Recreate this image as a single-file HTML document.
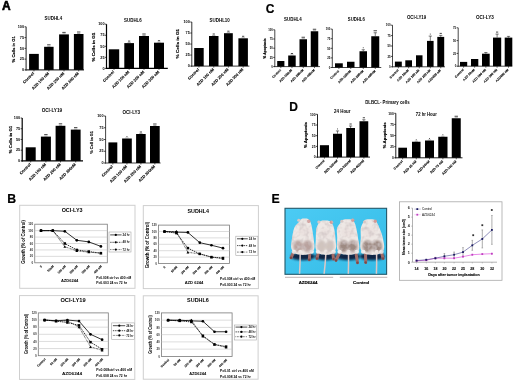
<!DOCTYPE html>
<html><head><meta charset="utf-8"><style>
html,body{margin:0;padding:0;background:#fff;}
body{width:520px;height:385px;overflow:hidden;}
svg{display:block;font-family:"Liberation Sans",sans-serif;will-change:transform;filter:blur(0.5px);}
</style></head><body>
<svg width="520" height="385" viewBox="0 0 520 385">
<text x="6.40" y="9.50" font-size="12.0" text-anchor="middle" font-weight="bold" fill="#000" stroke="#000" stroke-width="0.6" stroke-linejoin="round">A</text>
<text x="270.10" y="13.10" font-size="12" text-anchor="middle" font-weight="bold" fill="#000" stroke="#000" stroke-width="0.2">C</text>
<text x="293.50" y="110.80" font-size="12" text-anchor="middle" font-weight="bold" fill="#000" stroke="#000" stroke-width="0.2">D</text>
<text x="11.60" y="203.10" font-size="12.3" text-anchor="middle" font-weight="bold" fill="#000" stroke="#000" stroke-width="0.2">B</text>
<text x="275.50" y="203.00" font-size="12.3" text-anchor="middle" font-weight="bold" fill="#000" stroke="#000" stroke-width="0.2">E</text>
<line x1="26.10" y1="26.80" x2="26.10" y2="70.45" stroke="#333" stroke-width="1.1" />
<line x1="25.55" y1="69.90" x2="84.00" y2="69.90" stroke="#333" stroke-width="1.1" />
<line x1="24.50" y1="26.80" x2="26.10" y2="26.80" stroke="#000" stroke-width="0.7" />
<text x="24.10" y="28.00" font-size="3.8" text-anchor="end" font-weight="bold" fill="#000" >100</text>
<line x1="24.50" y1="37.58" x2="26.10" y2="37.58" stroke="#000" stroke-width="0.7" />
<text x="24.10" y="38.78" font-size="3.8" text-anchor="end" font-weight="bold" fill="#000" >75</text>
<line x1="24.50" y1="48.35" x2="26.10" y2="48.35" stroke="#000" stroke-width="0.7" />
<text x="24.10" y="49.55" font-size="3.8" text-anchor="end" font-weight="bold" fill="#000" >50</text>
<line x1="24.50" y1="59.12" x2="26.10" y2="59.12" stroke="#000" stroke-width="0.7" />
<text x="24.10" y="60.33" font-size="3.8" text-anchor="end" font-weight="bold" fill="#000" >25</text>
<line x1="24.50" y1="69.90" x2="26.10" y2="69.90" stroke="#000" stroke-width="0.7" />
<text x="24.10" y="71.10" font-size="3.8" text-anchor="end" font-weight="bold" fill="#000" >0</text>
<rect x="29.10" y="53.90" width="9.70" height="16.00" fill="#000" stroke="none" stroke-width="1" />
<line x1="33.95" y1="69.90" x2="33.95" y2="71.40" stroke="#000" stroke-width="0.6" />
<rect x="44.10" y="46.80" width="9.50" height="23.10" fill="#000" stroke="none" stroke-width="1" />
<line x1="48.85" y1="69.90" x2="48.85" y2="71.40" stroke="#000" stroke-width="0.6" />
<rect x="59.10" y="34.40" width="9.80" height="35.50" fill="#000" stroke="none" stroke-width="1" />
<line x1="64.00" y1="69.90" x2="64.00" y2="71.40" stroke="#000" stroke-width="0.6" />
<rect x="73.90" y="34.00" width="9.60" height="35.90" fill="#000" stroke="none" stroke-width="1" />
<line x1="78.70" y1="69.90" x2="78.70" y2="71.40" stroke="#000" stroke-width="0.6" />
<text x="53.40" y="19.80" font-size="5.2" text-anchor="middle" font-weight="bold" fill="#000" textLength="17.60" lengthAdjust="spacingAndGlyphs" >SUDHL4</text>
<text x="14.60" y="49.30" font-size="4.3" text-anchor="middle" font-weight="bold" fill="#000" textLength="26.30" lengthAdjust="spacingAndGlyphs" transform="rotate(-90 14.60 49.30)" stroke="#000" stroke-width="0.15">% Cells in G1</text>
<text x="34.45" y="73.80" font-size="4.0" text-anchor="end" font-weight="bold" fill="#000" transform="rotate(-45 34.45 73.80)" stroke="#000" stroke-width="0.1">Control</text>
<text x="49.35" y="73.80" font-size="4.0" text-anchor="end" font-weight="bold" fill="#000" transform="rotate(-45 49.35 73.80)" stroke="#000" stroke-width="0.1">AZD 100 nM</text>
<text x="64.50" y="73.80" font-size="4.0" text-anchor="end" font-weight="bold" fill="#000" transform="rotate(-45 64.50 73.80)" stroke="#000" stroke-width="0.1">AZD 200 nM</text>
<text x="79.20" y="73.80" font-size="4.0" text-anchor="end" font-weight="bold" fill="#000" transform="rotate(-45 79.20 73.80)" stroke="#000" stroke-width="0.1">AZD 300 nM</text>
<line x1="47.15" y1="44.80" x2="50.55" y2="44.80" stroke="#333" stroke-width="0.9" />
<line x1="47.25" y1="46.30" x2="50.45" y2="46.30" stroke="#555" stroke-width="0.5" />
<line x1="62.30" y1="32.40" x2="65.70" y2="32.40" stroke="#333" stroke-width="0.9" />
<line x1="62.40" y1="33.90" x2="65.60" y2="33.90" stroke="#555" stroke-width="0.5" />
<line x1="77.00" y1="32.00" x2="80.40" y2="32.00" stroke="#333" stroke-width="0.9" />
<line x1="77.10" y1="33.50" x2="80.30" y2="33.50" stroke="#555" stroke-width="0.5" />
<line x1="106.50" y1="24.20" x2="106.50" y2="69.00" stroke="#000" stroke-width="1.2" />
<line x1="105.90" y1="68.40" x2="167.80" y2="68.40" stroke="#000" stroke-width="1.2" />
<line x1="104.90" y1="24.20" x2="106.50" y2="24.20" stroke="#000" stroke-width="0.7" />
<text x="104.50" y="25.40" font-size="3.8" text-anchor="end" font-weight="bold" fill="#000" >100</text>
<line x1="104.90" y1="35.25" x2="106.50" y2="35.25" stroke="#000" stroke-width="0.7" />
<text x="104.50" y="36.45" font-size="3.8" text-anchor="end" font-weight="bold" fill="#000" >75</text>
<line x1="104.90" y1="46.30" x2="106.50" y2="46.30" stroke="#000" stroke-width="0.7" />
<text x="104.50" y="47.50" font-size="3.8" text-anchor="end" font-weight="bold" fill="#000" >50</text>
<line x1="104.90" y1="57.35" x2="106.50" y2="57.35" stroke="#000" stroke-width="0.7" />
<text x="104.50" y="58.55" font-size="3.8" text-anchor="end" font-weight="bold" fill="#000" >25</text>
<line x1="104.90" y1="68.40" x2="106.50" y2="68.40" stroke="#000" stroke-width="0.7" />
<text x="104.50" y="69.60" font-size="3.8" text-anchor="end" font-weight="bold" fill="#000" >0</text>
<rect x="108.80" y="49.30" width="10.40" height="19.10" fill="#000" stroke="none" stroke-width="1" />
<line x1="114.00" y1="68.40" x2="114.00" y2="69.90" stroke="#000" stroke-width="0.6" />
<rect x="124.30" y="43.10" width="9.70" height="25.30" fill="#000" stroke="none" stroke-width="1" />
<line x1="129.15" y1="68.40" x2="129.15" y2="69.90" stroke="#000" stroke-width="0.6" />
<rect x="139.00" y="36.00" width="10.00" height="32.40" fill="#000" stroke="none" stroke-width="1" />
<line x1="144.00" y1="68.40" x2="144.00" y2="69.90" stroke="#000" stroke-width="0.6" />
<rect x="154.00" y="42.70" width="10.00" height="25.70" fill="#000" stroke="none" stroke-width="1" />
<line x1="159.00" y1="68.40" x2="159.00" y2="69.90" stroke="#000" stroke-width="0.6" />
<text x="132.90" y="22.20" font-size="5.2" text-anchor="middle" font-weight="bold" fill="#000" textLength="17.60" lengthAdjust="spacingAndGlyphs" >SUDHL6</text>
<text x="95.00" y="47.10" font-size="4.3" text-anchor="middle" font-weight="bold" fill="#000" textLength="29.00" lengthAdjust="spacingAndGlyphs" transform="rotate(-90 95.00 47.10)" stroke="#000" stroke-width="0.15">% Cells in G1</text>
<text x="114.50" y="72.30" font-size="4.0" text-anchor="end" font-weight="bold" fill="#000" transform="rotate(-45 114.50 72.30)" stroke="#000" stroke-width="0.1">Control</text>
<text x="129.65" y="72.30" font-size="4.0" text-anchor="end" font-weight="bold" fill="#000" transform="rotate(-45 129.65 72.30)" stroke="#000" stroke-width="0.1">AZD 100 nM</text>
<text x="144.50" y="72.30" font-size="4.0" text-anchor="end" font-weight="bold" fill="#000" transform="rotate(-45 144.50 72.30)" stroke="#000" stroke-width="0.1">AZD 200 nM</text>
<text x="159.50" y="72.30" font-size="4.0" text-anchor="end" font-weight="bold" fill="#000" transform="rotate(-45 159.50 72.30)" stroke="#000" stroke-width="0.1">AZD 300 nM</text>
<line x1="128.05" y1="41.10" x2="130.25" y2="41.10" stroke="#333" stroke-width="0.9" />
<line x1="127.55" y1="42.60" x2="130.75" y2="42.60" stroke="#555" stroke-width="0.5" />
<line x1="142.30" y1="34.00" x2="145.70" y2="34.00" stroke="#333" stroke-width="0.9" />
<line x1="142.40" y1="35.50" x2="145.60" y2="35.50" stroke="#555" stroke-width="0.5" />
<line x1="157.90" y1="40.70" x2="160.10" y2="40.70" stroke="#333" stroke-width="0.9" />
<line x1="157.40" y1="42.20" x2="160.60" y2="42.20" stroke="#555" stroke-width="0.5" />
<line x1="191.80" y1="22.00" x2="191.80" y2="66.60" stroke="#333" stroke-width="1.0" />
<line x1="191.30" y1="66.10" x2="249.40" y2="66.10" stroke="#333" stroke-width="1.0" />
<line x1="190.20" y1="22.00" x2="191.80" y2="22.00" stroke="#000" stroke-width="0.7" />
<text x="189.80" y="23.20" font-size="3.8" text-anchor="end" font-weight="bold" fill="#000" >100</text>
<line x1="190.20" y1="33.02" x2="191.80" y2="33.02" stroke="#000" stroke-width="0.7" />
<text x="189.80" y="34.23" font-size="3.8" text-anchor="end" font-weight="bold" fill="#000" >75</text>
<line x1="190.20" y1="44.05" x2="191.80" y2="44.05" stroke="#000" stroke-width="0.7" />
<text x="189.80" y="45.25" font-size="3.8" text-anchor="end" font-weight="bold" fill="#000" >50</text>
<line x1="190.20" y1="55.07" x2="191.80" y2="55.07" stroke="#000" stroke-width="0.7" />
<text x="189.80" y="56.27" font-size="3.8" text-anchor="end" font-weight="bold" fill="#000" >25</text>
<line x1="190.20" y1="66.10" x2="191.80" y2="66.10" stroke="#000" stroke-width="0.7" />
<text x="189.80" y="67.30" font-size="3.8" text-anchor="end" font-weight="bold" fill="#000" >0</text>
<rect x="194.20" y="48.00" width="9.50" height="18.10" fill="#000" stroke="none" stroke-width="1" />
<line x1="198.95" y1="66.10" x2="198.95" y2="67.60" stroke="#000" stroke-width="0.6" />
<rect x="209.00" y="36.00" width="9.50" height="30.10" fill="#000" stroke="none" stroke-width="1" />
<line x1="213.75" y1="66.10" x2="213.75" y2="67.60" stroke="#000" stroke-width="0.6" />
<rect x="224.00" y="33.20" width="8.80" height="32.90" fill="#000" stroke="none" stroke-width="1" />
<line x1="228.40" y1="66.10" x2="228.40" y2="67.60" stroke="#000" stroke-width="0.6" />
<rect x="238.40" y="38.30" width="9.50" height="27.80" fill="#000" stroke="none" stroke-width="1" />
<line x1="243.15" y1="66.10" x2="243.15" y2="67.60" stroke="#000" stroke-width="0.6" />
<text x="219.70" y="22.10" font-size="5.2" text-anchor="middle" font-weight="bold" fill="#000" textLength="20.20" lengthAdjust="spacingAndGlyphs" >SUDHL10</text>
<text x="179.00" y="43.70" font-size="4.3" text-anchor="middle" font-weight="bold" fill="#000" textLength="29.70" lengthAdjust="spacingAndGlyphs" transform="rotate(-90 179.00 43.70)" stroke="#000" stroke-width="0.15">% Cells in G1</text>
<text x="199.45" y="70.00" font-size="4.0" text-anchor="end" font-weight="bold" fill="#000" transform="rotate(-45 199.45 70.00)" stroke="#000" stroke-width="0.1">Control</text>
<text x="214.25" y="70.00" font-size="4.0" text-anchor="end" font-weight="bold" fill="#000" transform="rotate(-45 214.25 70.00)" stroke="#000" stroke-width="0.1">AZD 100 nM</text>
<text x="228.90" y="70.00" font-size="4.0" text-anchor="end" font-weight="bold" fill="#000" transform="rotate(-45 228.90 70.00)" stroke="#000" stroke-width="0.1">AZD 200 nM</text>
<text x="243.65" y="70.00" font-size="4.0" text-anchor="end" font-weight="bold" fill="#000" transform="rotate(-45 243.65 70.00)" stroke="#000" stroke-width="0.1">AZD 300 nM</text>
<line x1="212.65" y1="34.00" x2="214.85" y2="34.00" stroke="#333" stroke-width="0.9" />
<line x1="212.15" y1="35.50" x2="215.35" y2="35.50" stroke="#555" stroke-width="0.5" />
<line x1="227.30" y1="31.20" x2="229.50" y2="31.20" stroke="#333" stroke-width="0.9" />
<line x1="226.80" y1="32.70" x2="230.00" y2="32.70" stroke="#555" stroke-width="0.5" />
<line x1="242.05" y1="36.30" x2="244.25" y2="36.30" stroke="#333" stroke-width="0.9" />
<line x1="241.55" y1="37.80" x2="244.75" y2="37.80" stroke="#555" stroke-width="0.5" />
<line x1="22.20" y1="118.00" x2="22.20" y2="161.50" stroke="#000" stroke-width="1.2" />
<line x1="21.60" y1="160.90" x2="83.00" y2="160.90" stroke="#000" stroke-width="1.2" />
<line x1="20.60" y1="118.00" x2="22.20" y2="118.00" stroke="#000" stroke-width="0.7" />
<text x="20.20" y="119.20" font-size="3.8" text-anchor="end" font-weight="bold" fill="#000" >100</text>
<line x1="20.60" y1="128.72" x2="22.20" y2="128.72" stroke="#000" stroke-width="0.7" />
<text x="20.20" y="129.92" font-size="3.8" text-anchor="end" font-weight="bold" fill="#000" >75</text>
<line x1="20.60" y1="139.45" x2="22.20" y2="139.45" stroke="#000" stroke-width="0.7" />
<text x="20.20" y="140.65" font-size="3.8" text-anchor="end" font-weight="bold" fill="#000" >50</text>
<line x1="20.60" y1="150.18" x2="22.20" y2="150.18" stroke="#000" stroke-width="0.7" />
<text x="20.20" y="151.38" font-size="3.8" text-anchor="end" font-weight="bold" fill="#000" >25</text>
<line x1="20.60" y1="160.90" x2="22.20" y2="160.90" stroke="#000" stroke-width="0.7" />
<text x="20.20" y="162.10" font-size="3.8" text-anchor="end" font-weight="bold" fill="#000" >0</text>
<rect x="25.70" y="147.30" width="10.00" height="13.60" fill="#000" stroke="none" stroke-width="1" />
<line x1="30.70" y1="160.90" x2="30.70" y2="162.40" stroke="#000" stroke-width="0.6" />
<rect x="40.90" y="136.60" width="10.00" height="24.30" fill="#000" stroke="none" stroke-width="1" />
<line x1="45.90" y1="160.90" x2="45.90" y2="162.40" stroke="#000" stroke-width="0.6" />
<rect x="55.60" y="125.80" width="9.80" height="35.10" fill="#000" stroke="none" stroke-width="1" />
<line x1="60.50" y1="160.90" x2="60.50" y2="162.40" stroke="#000" stroke-width="0.6" />
<rect x="70.80" y="129.60" width="9.80" height="31.30" fill="#000" stroke="none" stroke-width="1" />
<line x1="75.70" y1="160.90" x2="75.70" y2="162.40" stroke="#000" stroke-width="0.6" />
<text x="51.90" y="111.50" font-size="5.2" text-anchor="middle" font-weight="bold" fill="#000" textLength="20.50" lengthAdjust="spacingAndGlyphs" >OCI-LY19</text>
<text x="11.50" y="139.50" font-size="4.3" text-anchor="middle" font-weight="bold" fill="#000" textLength="27.50" lengthAdjust="spacingAndGlyphs" transform="rotate(-90 11.50 139.50)" stroke="#000" stroke-width="0.15">% Cells in G1</text>
<text x="31.20" y="164.80" font-size="4.0" text-anchor="end" font-weight="bold" fill="#000" transform="rotate(-45 31.20 164.80)" stroke="#000" stroke-width="0.1">Control</text>
<text x="46.40" y="164.80" font-size="4.0" text-anchor="end" font-weight="bold" fill="#000" transform="rotate(-45 46.40 164.80)" stroke="#000" stroke-width="0.1">AZD 100 nM</text>
<text x="61.00" y="164.80" font-size="4.0" text-anchor="end" font-weight="bold" fill="#000" transform="rotate(-45 61.00 164.80)" stroke="#000" stroke-width="0.1">AZD 200 nM</text>
<text x="76.20" y="164.80" font-size="4.0" text-anchor="end" font-weight="bold" fill="#000" transform="rotate(-45 76.20 164.80)" stroke="#000" stroke-width="0.1">AZD 300nM</text>
<line x1="44.20" y1="134.60" x2="47.60" y2="134.60" stroke="#333" stroke-width="0.9" />
<line x1="44.30" y1="136.10" x2="47.50" y2="136.10" stroke="#555" stroke-width="0.5" />
<line x1="58.80" y1="123.80" x2="62.20" y2="123.80" stroke="#333" stroke-width="0.9" />
<line x1="58.90" y1="125.30" x2="62.10" y2="125.30" stroke="#555" stroke-width="0.5" />
<line x1="74.00" y1="127.60" x2="77.40" y2="127.60" stroke="#333" stroke-width="0.9" />
<line x1="74.10" y1="129.10" x2="77.30" y2="129.10" stroke="#555" stroke-width="0.5" />
<line x1="105.60" y1="116.00" x2="105.60" y2="163.50" stroke="#444" stroke-width="1.0" />
<line x1="105.10" y1="163.00" x2="160.60" y2="163.00" stroke="#444" stroke-width="1.0" />
<line x1="104.00" y1="116.00" x2="105.60" y2="116.00" stroke="#000" stroke-width="0.7" />
<text x="103.60" y="117.20" font-size="3.8" text-anchor="end" font-weight="bold" fill="#000" >100</text>
<line x1="104.00" y1="127.75" x2="105.60" y2="127.75" stroke="#000" stroke-width="0.7" />
<text x="103.60" y="128.95" font-size="3.8" text-anchor="end" font-weight="bold" fill="#000" >75</text>
<line x1="104.00" y1="139.50" x2="105.60" y2="139.50" stroke="#000" stroke-width="0.7" />
<text x="103.60" y="140.70" font-size="3.8" text-anchor="end" font-weight="bold" fill="#000" >50</text>
<line x1="104.00" y1="151.25" x2="105.60" y2="151.25" stroke="#000" stroke-width="0.7" />
<text x="103.60" y="152.45" font-size="3.8" text-anchor="end" font-weight="bold" fill="#000" >25</text>
<line x1="104.00" y1="163.00" x2="105.60" y2="163.00" stroke="#000" stroke-width="0.7" />
<text x="103.60" y="164.20" font-size="3.8" text-anchor="end" font-weight="bold" fill="#000" >0</text>
<rect x="108.40" y="142.40" width="8.90" height="20.60" fill="#000" stroke="none" stroke-width="1" />
<line x1="112.85" y1="163.00" x2="112.85" y2="164.50" stroke="#000" stroke-width="0.6" />
<rect x="122.10" y="138.50" width="9.70" height="24.50" fill="#000" stroke="none" stroke-width="1" />
<line x1="126.95" y1="163.00" x2="126.95" y2="164.50" stroke="#000" stroke-width="0.6" />
<rect x="136.10" y="134.00" width="9.60" height="29.00" fill="#000" stroke="none" stroke-width="1" />
<line x1="140.90" y1="163.00" x2="140.90" y2="164.50" stroke="#000" stroke-width="0.6" />
<rect x="150.00" y="126.00" width="9.70" height="37.00" fill="#000" stroke="none" stroke-width="1" />
<line x1="154.85" y1="163.00" x2="154.85" y2="164.50" stroke="#000" stroke-width="0.6" />
<text x="131.30" y="113.60" font-size="5.2" text-anchor="middle" font-weight="bold" fill="#000" textLength="17.60" lengthAdjust="spacingAndGlyphs" >OCI-LY3</text>
<text x="93.30" y="142.40" font-size="4.3" text-anchor="middle" font-weight="bold" fill="#000" textLength="22.60" lengthAdjust="spacingAndGlyphs" transform="rotate(-90 93.30 142.40)" stroke="#000" stroke-width="0.15">% Cell in G1</text>
<text x="113.35" y="166.90" font-size="4.0" text-anchor="end" font-weight="bold" fill="#000" transform="rotate(-45 113.35 166.90)" stroke="#000" stroke-width="0.1">Control</text>
<text x="127.45" y="166.90" font-size="4.0" text-anchor="end" font-weight="bold" fill="#000" transform="rotate(-45 127.45 166.90)" stroke="#000" stroke-width="0.1">AZD 100 nM</text>
<text x="141.40" y="166.90" font-size="4.0" text-anchor="end" font-weight="bold" fill="#000" transform="rotate(-45 141.40 166.90)" stroke="#000" stroke-width="0.1">AZD 200 nM</text>
<text x="155.35" y="166.90" font-size="4.0" text-anchor="end" font-weight="bold" fill="#000" transform="rotate(-45 155.35 166.90)" stroke="#000" stroke-width="0.1">AZD 300nM</text>
<line x1="126.50" y1="136.50" x2="127.40" y2="136.50" stroke="#333" stroke-width="0.9" />
<line x1="125.35" y1="138.00" x2="128.55" y2="138.00" stroke="#555" stroke-width="0.5" />
<line x1="139.80" y1="132.00" x2="142.00" y2="132.00" stroke="#333" stroke-width="0.9" />
<line x1="139.30" y1="133.50" x2="142.50" y2="133.50" stroke="#555" stroke-width="0.5" />
<line x1="153.15" y1="124.00" x2="156.55" y2="124.00" stroke="#333" stroke-width="0.9" />
<line x1="153.25" y1="125.50" x2="156.45" y2="125.50" stroke="#555" stroke-width="0.5" />
<line x1="274.80" y1="29.80" x2="274.80" y2="67.05" stroke="#333" stroke-width="0.9" />
<line x1="274.35" y1="66.60" x2="320.00" y2="66.60" stroke="#333" stroke-width="0.9" />
<line x1="273.20" y1="29.80" x2="274.80" y2="29.80" stroke="#000" stroke-width="0.7" />
<text x="272.80" y="31.00" font-size="2.8" text-anchor="end" font-weight="bold" fill="#000" >100</text>
<line x1="273.20" y1="39.00" x2="274.80" y2="39.00" stroke="#000" stroke-width="0.7" />
<text x="272.80" y="40.20" font-size="2.8" text-anchor="end" font-weight="bold" fill="#000" >75</text>
<line x1="273.20" y1="48.20" x2="274.80" y2="48.20" stroke="#000" stroke-width="0.7" />
<text x="272.80" y="49.40" font-size="2.8" text-anchor="end" font-weight="bold" fill="#000" >50</text>
<line x1="273.20" y1="57.40" x2="274.80" y2="57.40" stroke="#000" stroke-width="0.7" />
<text x="272.80" y="58.60" font-size="2.8" text-anchor="end" font-weight="bold" fill="#000" >25</text>
<line x1="273.20" y1="66.60" x2="274.80" y2="66.60" stroke="#000" stroke-width="0.7" />
<text x="272.80" y="67.80" font-size="2.8" text-anchor="end" font-weight="bold" fill="#000" >0</text>
<rect x="277.20" y="61.00" width="7.20" height="5.60" fill="#000" stroke="none" stroke-width="1" />
<line x1="280.80" y1="66.60" x2="280.80" y2="68.10" stroke="#000" stroke-width="0.6" />
<rect x="288.20" y="55.50" width="7.50" height="11.10" fill="#000" stroke="none" stroke-width="1" />
<line x1="291.95" y1="66.60" x2="291.95" y2="68.10" stroke="#000" stroke-width="0.6" />
<rect x="299.50" y="39.25" width="7.50" height="27.35" fill="#000" stroke="none" stroke-width="1" />
<line x1="303.25" y1="66.60" x2="303.25" y2="68.10" stroke="#000" stroke-width="0.6" />
<rect x="310.75" y="31.25" width="7.50" height="35.35" fill="#000" stroke="none" stroke-width="1" />
<line x1="314.50" y1="66.60" x2="314.50" y2="68.10" stroke="#000" stroke-width="0.6" />
<text x="292.90" y="20.50" font-size="4.8" text-anchor="middle" font-weight="bold" fill="#000" textLength="17.60" lengthAdjust="spacingAndGlyphs" >SUDHL4</text>
<text x="265.90" y="48.50" font-size="3.4" text-anchor="middle" font-weight="bold" fill="#000" textLength="20.30" lengthAdjust="spacingAndGlyphs" transform="rotate(-90 265.90 48.50)" stroke="#000" stroke-width="0.15">% Apoptosis</text>
<text x="281.30" y="70.50" font-size="3.1" text-anchor="end" font-weight="bold" fill="#000" transform="rotate(-45 281.30 70.50)" stroke="#000" stroke-width="0.1">Control</text>
<text x="292.45" y="70.50" font-size="3.1" text-anchor="end" font-weight="bold" fill="#000" transform="rotate(-45 292.45 70.50)" stroke="#000" stroke-width="0.1">AZD-100nM</text>
<text x="303.75" y="70.50" font-size="3.1" text-anchor="end" font-weight="bold" fill="#000" transform="rotate(-45 303.75 70.50)" stroke="#000" stroke-width="0.1">AZD-200nM</text>
<text x="315.00" y="70.50" font-size="3.1" text-anchor="end" font-weight="bold" fill="#000" transform="rotate(-45 315.00 70.50)" stroke="#000" stroke-width="0.1">AZD-400nM</text>
<line x1="290.85" y1="53.50" x2="293.05" y2="53.50" stroke="#333" stroke-width="0.9" />
<line x1="290.35" y1="55.00" x2="293.55" y2="55.00" stroke="#555" stroke-width="0.5" />
<line x1="301.55" y1="37.25" x2="304.95" y2="37.25" stroke="#333" stroke-width="0.9" />
<line x1="301.65" y1="38.75" x2="304.85" y2="38.75" stroke="#555" stroke-width="0.5" />
<line x1="312.80" y1="29.25" x2="316.20" y2="29.25" stroke="#333" stroke-width="0.9" />
<line x1="312.90" y1="30.75" x2="316.10" y2="30.75" stroke="#555" stroke-width="0.5" />
<line x1="332.30" y1="29.10" x2="332.30" y2="67.95" stroke="#333" stroke-width="0.9" />
<line x1="331.85" y1="67.50" x2="381.25" y2="67.50" stroke="#333" stroke-width="0.9" />
<line x1="330.70" y1="29.10" x2="332.30" y2="29.10" stroke="#000" stroke-width="0.7" />
<text x="330.30" y="30.30" font-size="2.8" text-anchor="end" font-weight="bold" fill="#000" >100</text>
<line x1="330.70" y1="38.70" x2="332.30" y2="38.70" stroke="#000" stroke-width="0.7" />
<text x="330.30" y="39.90" font-size="2.8" text-anchor="end" font-weight="bold" fill="#000" >75</text>
<line x1="330.70" y1="48.30" x2="332.30" y2="48.30" stroke="#000" stroke-width="0.7" />
<text x="330.30" y="49.50" font-size="2.8" text-anchor="end" font-weight="bold" fill="#000" >50</text>
<line x1="330.70" y1="57.90" x2="332.30" y2="57.90" stroke="#000" stroke-width="0.7" />
<text x="330.30" y="59.10" font-size="2.8" text-anchor="end" font-weight="bold" fill="#000" >25</text>
<line x1="330.70" y1="67.50" x2="332.30" y2="67.50" stroke="#000" stroke-width="0.7" />
<text x="330.30" y="68.70" font-size="2.8" text-anchor="end" font-weight="bold" fill="#000" >0</text>
<rect x="335.00" y="63.30" width="7.80" height="4.20" fill="#000" stroke="none" stroke-width="1" />
<line x1="338.90" y1="67.50" x2="338.90" y2="69.00" stroke="#000" stroke-width="0.6" />
<rect x="347.00" y="61.75" width="7.50" height="5.75" fill="#000" stroke="none" stroke-width="1" />
<line x1="350.75" y1="67.50" x2="350.75" y2="69.00" stroke="#000" stroke-width="0.6" />
<rect x="359.50" y="51.25" width="7.50" height="16.25" fill="#000" stroke="none" stroke-width="1" />
<line x1="363.25" y1="67.50" x2="363.25" y2="69.00" stroke="#000" stroke-width="0.6" />
<rect x="371.25" y="36.25" width="8.00" height="31.25" fill="#000" stroke="none" stroke-width="1" />
<line x1="375.25" y1="67.50" x2="375.25" y2="69.00" stroke="#000" stroke-width="0.6" />
<text x="356.30" y="20.50" font-size="4.8" text-anchor="middle" font-weight="bold" fill="#000" textLength="17.00" lengthAdjust="spacingAndGlyphs" >SUDHL6</text>
<text x="339.40" y="71.40" font-size="3.1" text-anchor="end" font-weight="bold" fill="#000" transform="rotate(-45 339.40 71.40)" stroke="#000" stroke-width="0.1">Control</text>
<text x="351.25" y="71.40" font-size="3.1" text-anchor="end" font-weight="bold" fill="#000" transform="rotate(-45 351.25 71.40)" stroke="#000" stroke-width="0.1">AZD-100nM</text>
<text x="363.75" y="71.40" font-size="3.1" text-anchor="end" font-weight="bold" fill="#000" transform="rotate(-45 363.75 71.40)" stroke="#000" stroke-width="0.1">AZD-200nM</text>
<text x="375.75" y="71.40" font-size="3.1" text-anchor="end" font-weight="bold" fill="#000" transform="rotate(-45 375.75 71.40)" stroke="#000" stroke-width="0.1">AZD-400nM</text>
<line x1="363.25" y1="49.75" x2="363.25" y2="51.25" stroke="#222" stroke-width="0.6" />
<line x1="361.65" y1="49.75" x2="364.85" y2="49.75" stroke="#222" stroke-width="0.6" />
<line x1="362.80" y1="47.75" x2="363.70" y2="47.75" stroke="#333" stroke-width="0.9" />
<line x1="375.25" y1="32.75" x2="375.25" y2="36.25" stroke="#222" stroke-width="0.6" />
<line x1="373.65" y1="32.75" x2="376.85" y2="32.75" stroke="#222" stroke-width="0.6" />
<line x1="373.55" y1="30.75" x2="376.95" y2="30.75" stroke="#333" stroke-width="0.9" />
<line x1="392.50" y1="25.20" x2="392.50" y2="67.25" stroke="#333" stroke-width="0.9" />
<line x1="392.05" y1="66.80" x2="445.00" y2="66.80" stroke="#333" stroke-width="0.9" />
<line x1="390.90" y1="25.20" x2="392.50" y2="25.20" stroke="#000" stroke-width="0.7" />
<text x="390.50" y="26.40" font-size="2.8" text-anchor="end" font-weight="bold" fill="#000" >100</text>
<line x1="390.90" y1="35.60" x2="392.50" y2="35.60" stroke="#000" stroke-width="0.7" />
<text x="390.50" y="36.80" font-size="2.8" text-anchor="end" font-weight="bold" fill="#000" >75</text>
<line x1="390.90" y1="46.00" x2="392.50" y2="46.00" stroke="#000" stroke-width="0.7" />
<text x="390.50" y="47.20" font-size="2.8" text-anchor="end" font-weight="bold" fill="#000" >50</text>
<line x1="390.90" y1="56.40" x2="392.50" y2="56.40" stroke="#000" stroke-width="0.7" />
<text x="390.50" y="57.60" font-size="2.8" text-anchor="end" font-weight="bold" fill="#000" >25</text>
<line x1="390.90" y1="66.80" x2="392.50" y2="66.80" stroke="#000" stroke-width="0.7" />
<text x="390.50" y="68.00" font-size="2.8" text-anchor="end" font-weight="bold" fill="#000" >0</text>
<rect x="394.90" y="61.60" width="6.90" height="5.20" fill="#000" stroke="none" stroke-width="1" />
<line x1="398.35" y1="66.80" x2="398.35" y2="68.30" stroke="#000" stroke-width="0.6" />
<rect x="405.30" y="60.30" width="6.70" height="6.50" fill="#000" stroke="none" stroke-width="1" />
<line x1="408.65" y1="66.80" x2="408.65" y2="68.30" stroke="#000" stroke-width="0.6" />
<rect x="416.00" y="55.30" width="6.50" height="11.50" fill="#000" stroke="none" stroke-width="1" />
<line x1="419.25" y1="66.80" x2="419.25" y2="68.30" stroke="#000" stroke-width="0.6" />
<rect x="427.00" y="40.90" width="6.60" height="25.90" fill="#000" stroke="none" stroke-width="1" />
<line x1="430.30" y1="66.80" x2="430.30" y2="68.30" stroke="#000" stroke-width="0.6" />
<rect x="437.30" y="36.90" width="6.90" height="29.90" fill="#000" stroke="none" stroke-width="1" />
<line x1="440.75" y1="66.80" x2="440.75" y2="68.30" stroke="#000" stroke-width="0.6" />
<text x="416.60" y="19.40" font-size="4.8" text-anchor="middle" font-weight="bold" fill="#000" textLength="19.30" lengthAdjust="spacingAndGlyphs" >OCI-LY19</text>
<text x="398.85" y="70.70" font-size="3.2" text-anchor="end" font-weight="bold" fill="#000" transform="rotate(-45 398.85 70.70)" stroke="#000" stroke-width="0.1">Control</text>
<text x="409.15" y="70.70" font-size="3.2" text-anchor="end" font-weight="bold" fill="#000" transform="rotate(-45 409.15 70.70)" stroke="#000" stroke-width="0.1">AZD 10nM</text>
<text x="419.75" y="70.70" font-size="3.2" text-anchor="end" font-weight="bold" fill="#000" transform="rotate(-45 419.75 70.70)" stroke="#000" stroke-width="0.1">AZD 100 nM</text>
<text x="430.80" y="70.70" font-size="3.2" text-anchor="end" font-weight="bold" fill="#000" transform="rotate(-45 430.80 70.70)" stroke="#000" stroke-width="0.1">AZD 200 nM</text>
<text x="441.25" y="70.70" font-size="3.2" text-anchor="end" font-weight="bold" fill="#000" transform="rotate(-45 441.25 70.70)" stroke="#000" stroke-width="0.1">AZD400 nM</text>
<line x1="430.30" y1="36.10" x2="430.30" y2="40.90" stroke="#222" stroke-width="0.6" />
<line x1="428.70" y1="36.10" x2="431.90" y2="36.10" stroke="#222" stroke-width="0.6" />
<line x1="429.85" y1="34.10" x2="430.75" y2="34.10" stroke="#333" stroke-width="0.9" />
<line x1="440.75" y1="35.40" x2="440.75" y2="36.90" stroke="#222" stroke-width="0.6" />
<line x1="439.15" y1="35.40" x2="442.35" y2="35.40" stroke="#222" stroke-width="0.6" />
<line x1="439.65" y1="33.40" x2="441.85" y2="33.40" stroke="#333" stroke-width="0.9" />
<line x1="458.20" y1="27.80" x2="458.20" y2="66.65" stroke="#333" stroke-width="0.9" />
<line x1="457.75" y1="66.20" x2="512.30" y2="66.20" stroke="#333" stroke-width="0.9" />
<line x1="456.60" y1="27.80" x2="458.20" y2="27.80" stroke="#000" stroke-width="0.7" />
<text x="456.20" y="29.00" font-size="2.8" text-anchor="end" font-weight="bold" fill="#000" >75</text>
<line x1="456.60" y1="40.60" x2="458.20" y2="40.60" stroke="#000" stroke-width="0.7" />
<text x="456.20" y="41.80" font-size="2.8" text-anchor="end" font-weight="bold" fill="#000" >50</text>
<line x1="456.60" y1="53.40" x2="458.20" y2="53.40" stroke="#000" stroke-width="0.7" />
<text x="456.20" y="54.60" font-size="2.8" text-anchor="end" font-weight="bold" fill="#000" >25</text>
<line x1="456.60" y1="66.20" x2="458.20" y2="66.20" stroke="#000" stroke-width="0.7" />
<text x="456.20" y="67.40" font-size="2.8" text-anchor="end" font-weight="bold" fill="#000" >0</text>
<rect x="460.00" y="61.90" width="7.20" height="4.30" fill="#000" stroke="none" stroke-width="1" />
<line x1="463.60" y1="66.20" x2="463.60" y2="67.70" stroke="#000" stroke-width="0.6" />
<rect x="471.00" y="59.00" width="7.30" height="7.20" fill="#000" stroke="none" stroke-width="1" />
<line x1="474.65" y1="66.20" x2="474.65" y2="67.70" stroke="#000" stroke-width="0.6" />
<rect x="482.00" y="53.70" width="7.70" height="12.50" fill="#000" stroke="none" stroke-width="1" />
<line x1="485.85" y1="66.20" x2="485.85" y2="67.70" stroke="#000" stroke-width="0.6" />
<rect x="493.00" y="37.60" width="8.20" height="28.60" fill="#000" stroke="none" stroke-width="1" />
<line x1="497.10" y1="66.20" x2="497.10" y2="67.70" stroke="#000" stroke-width="0.6" />
<rect x="504.70" y="37.60" width="7.60" height="28.60" fill="#000" stroke="none" stroke-width="1" />
<line x1="508.50" y1="66.20" x2="508.50" y2="67.70" stroke="#000" stroke-width="0.6" />
<text x="484.90" y="18.80" font-size="4.8" text-anchor="middle" font-weight="bold" fill="#000" textLength="17.70" lengthAdjust="spacingAndGlyphs" >OCI-LY3</text>
<text x="464.10" y="70.10" font-size="3.2" text-anchor="end" font-weight="bold" fill="#000" transform="rotate(-45 464.10 70.10)" stroke="#000" stroke-width="0.1">Control</text>
<text x="475.15" y="70.10" font-size="3.2" text-anchor="end" font-weight="bold" fill="#000" transform="rotate(-45 475.15 70.10)" stroke="#000" stroke-width="0.1">AZD 10nM</text>
<text x="486.35" y="70.10" font-size="3.2" text-anchor="end" font-weight="bold" fill="#000" transform="rotate(-45 486.35 70.10)" stroke="#000" stroke-width="0.1">AZD 100 nM</text>
<text x="497.60" y="70.10" font-size="3.2" text-anchor="end" font-weight="bold" fill="#000" transform="rotate(-45 497.60 70.10)" stroke="#000" stroke-width="0.1">AZD 200 nM</text>
<text x="509.00" y="70.10" font-size="3.2" text-anchor="end" font-weight="bold" fill="#000" transform="rotate(-45 509.00 70.10)" stroke="#000" stroke-width="0.1">AZD400 nM</text>
<line x1="485.85" y1="52.50" x2="485.85" y2="53.70" stroke="#222" stroke-width="0.6" />
<line x1="484.25" y1="52.50" x2="487.45" y2="52.50" stroke="#222" stroke-width="0.6" />
<line x1="497.10" y1="34.10" x2="497.10" y2="37.60" stroke="#222" stroke-width="0.6" />
<line x1="495.50" y1="34.10" x2="498.70" y2="34.10" stroke="#222" stroke-width="0.6" />
<line x1="496.00" y1="32.10" x2="498.20" y2="32.10" stroke="#333" stroke-width="0.9" />
<line x1="508.50" y1="36.40" x2="508.50" y2="37.60" stroke="#222" stroke-width="0.6" />
<line x1="506.90" y1="36.40" x2="510.10" y2="36.40" stroke="#222" stroke-width="0.6" />
<text x="387.40" y="104.20" font-size="4.6" text-anchor="middle" font-weight="bold" fill="#000" textLength="44.40" lengthAdjust="spacingAndGlyphs" >DLBCL- Primary cells</text>
<line x1="317.50" y1="114.30" x2="317.50" y2="157.60" stroke="#222" stroke-width="1.0" />
<line x1="317.00" y1="157.10" x2="370.00" y2="157.10" stroke="#222" stroke-width="1.0" />
<line x1="315.90" y1="114.30" x2="317.50" y2="114.30" stroke="#000" stroke-width="0.7" />
<text x="315.50" y="115.50" font-size="3.3" text-anchor="end" font-weight="bold" fill="#000" >100</text>
<line x1="315.90" y1="125.00" x2="317.50" y2="125.00" stroke="#000" stroke-width="0.7" />
<text x="315.50" y="126.20" font-size="3.3" text-anchor="end" font-weight="bold" fill="#000" >75</text>
<line x1="315.90" y1="135.70" x2="317.50" y2="135.70" stroke="#000" stroke-width="0.7" />
<text x="315.50" y="136.90" font-size="3.3" text-anchor="end" font-weight="bold" fill="#000" >50</text>
<line x1="315.90" y1="146.40" x2="317.50" y2="146.40" stroke="#000" stroke-width="0.7" />
<text x="315.50" y="147.60" font-size="3.3" text-anchor="end" font-weight="bold" fill="#000" >25</text>
<line x1="315.90" y1="157.10" x2="317.50" y2="157.10" stroke="#000" stroke-width="0.7" />
<text x="315.50" y="158.30" font-size="3.3" text-anchor="end" font-weight="bold" fill="#000" >0</text>
<rect x="319.90" y="145.20" width="9.10" height="11.90" fill="#000" stroke="none" stroke-width="1" />
<line x1="324.45" y1="157.10" x2="324.45" y2="158.60" stroke="#000" stroke-width="0.6" />
<rect x="333.00" y="133.75" width="9.00" height="23.35" fill="#000" stroke="none" stroke-width="1" />
<line x1="337.50" y1="157.10" x2="337.50" y2="158.60" stroke="#000" stroke-width="0.6" />
<rect x="346.25" y="128.00" width="8.75" height="29.10" fill="#000" stroke="none" stroke-width="1" />
<line x1="350.62" y1="157.10" x2="350.62" y2="158.60" stroke="#000" stroke-width="0.6" />
<rect x="359.50" y="121.25" width="8.75" height="35.85" fill="#000" stroke="none" stroke-width="1" />
<line x1="363.88" y1="157.10" x2="363.88" y2="158.60" stroke="#000" stroke-width="0.6" />
<text x="342.30" y="112.50" font-size="4.8" text-anchor="middle" font-weight="bold" fill="#000" textLength="16.50" lengthAdjust="spacingAndGlyphs" >24 Hour</text>
<text x="306.80" y="135.10" font-size="4.2" text-anchor="middle" font-weight="bold" fill="#000" textLength="26.00" lengthAdjust="spacingAndGlyphs" transform="rotate(-90 306.80 135.10)" stroke="#000" stroke-width="0.15">% Apoptosis</text>
<text x="324.95" y="161.00" font-size="3.3" text-anchor="end" font-weight="bold" fill="#000" transform="rotate(-45 324.95 161.00)" stroke="#000" stroke-width="0.1">Control</text>
<text x="338.00" y="161.00" font-size="3.3" text-anchor="end" font-weight="bold" fill="#000" transform="rotate(-45 338.00 161.00)" stroke="#000" stroke-width="0.1">AZD-100nM</text>
<text x="351.12" y="161.00" font-size="3.3" text-anchor="end" font-weight="bold" fill="#000" transform="rotate(-45 351.12 161.00)" stroke="#000" stroke-width="0.1">AZD-200nM</text>
<text x="364.38" y="161.00" font-size="3.3" text-anchor="end" font-weight="bold" fill="#000" transform="rotate(-45 364.38 161.00)" stroke="#000" stroke-width="0.1">AZD-400nM</text>
<line x1="337.50" y1="130.95" x2="337.50" y2="133.75" stroke="#222" stroke-width="0.6" />
<line x1="335.90" y1="130.95" x2="339.10" y2="130.95" stroke="#222" stroke-width="0.6" />
<line x1="337.05" y1="128.95" x2="337.95" y2="128.95" stroke="#333" stroke-width="0.9" />
<line x1="350.62" y1="126.00" x2="350.62" y2="128.00" stroke="#222" stroke-width="0.6" />
<line x1="349.02" y1="126.00" x2="352.23" y2="126.00" stroke="#222" stroke-width="0.6" />
<line x1="349.52" y1="124.00" x2="351.73" y2="124.00" stroke="#333" stroke-width="0.9" />
<line x1="363.88" y1="119.75" x2="363.88" y2="121.25" stroke="#222" stroke-width="0.6" />
<line x1="362.27" y1="119.75" x2="365.48" y2="119.75" stroke="#222" stroke-width="0.6" />
<line x1="362.77" y1="117.75" x2="364.98" y2="117.75" stroke="#333" stroke-width="0.9" />
<line x1="395.80" y1="113.30" x2="395.80" y2="158.30" stroke="#222" stroke-width="1.0" />
<line x1="395.30" y1="157.80" x2="462.50" y2="157.80" stroke="#222" stroke-width="1.0" />
<line x1="394.20" y1="113.30" x2="395.80" y2="113.30" stroke="#000" stroke-width="0.7" />
<text x="393.80" y="114.50" font-size="3.3" text-anchor="end" font-weight="bold" fill="#000" >100</text>
<line x1="394.20" y1="124.42" x2="395.80" y2="124.42" stroke="#000" stroke-width="0.7" />
<text x="393.80" y="125.62" font-size="3.3" text-anchor="end" font-weight="bold" fill="#000" >75</text>
<line x1="394.20" y1="135.55" x2="395.80" y2="135.55" stroke="#000" stroke-width="0.7" />
<text x="393.80" y="136.75" font-size="3.3" text-anchor="end" font-weight="bold" fill="#000" >50</text>
<line x1="394.20" y1="146.68" x2="395.80" y2="146.68" stroke="#000" stroke-width="0.7" />
<text x="393.80" y="147.88" font-size="3.3" text-anchor="end" font-weight="bold" fill="#000" >25</text>
<line x1="394.20" y1="157.80" x2="395.80" y2="157.80" stroke="#000" stroke-width="0.7" />
<text x="393.80" y="159.00" font-size="3.3" text-anchor="end" font-weight="bold" fill="#000" >0</text>
<rect x="398.30" y="147.70" width="8.70" height="10.10" fill="#000" stroke="none" stroke-width="1" />
<line x1="402.65" y1="157.80" x2="402.65" y2="159.30" stroke="#000" stroke-width="0.6" />
<rect x="412.00" y="141.75" width="8.50" height="16.05" fill="#000" stroke="none" stroke-width="1" />
<line x1="416.25" y1="157.80" x2="416.25" y2="159.30" stroke="#000" stroke-width="0.6" />
<rect x="425.00" y="140.50" width="9.00" height="17.30" fill="#000" stroke="none" stroke-width="1" />
<line x1="429.50" y1="157.80" x2="429.50" y2="159.30" stroke="#000" stroke-width="0.6" />
<rect x="438.25" y="136.75" width="9.25" height="21.05" fill="#000" stroke="none" stroke-width="1" />
<line x1="442.88" y1="157.80" x2="442.88" y2="159.30" stroke="#000" stroke-width="0.6" />
<rect x="451.75" y="118.25" width="9.00" height="39.55" fill="#000" stroke="none" stroke-width="1" />
<line x1="456.25" y1="157.80" x2="456.25" y2="159.30" stroke="#000" stroke-width="0.6" />
<text x="426.30" y="116.10" font-size="4.6" text-anchor="middle" font-weight="bold" fill="#000" textLength="21.00" lengthAdjust="spacingAndGlyphs" >72 hr Hour</text>
<text x="385.60" y="135.30" font-size="4.2" text-anchor="middle" font-weight="bold" fill="#000" textLength="26.00" lengthAdjust="spacingAndGlyphs" transform="rotate(-90 385.60 135.30)" stroke="#000" stroke-width="0.15">% Apoptosis</text>
<text x="403.15" y="161.70" font-size="3.3" text-anchor="end" font-weight="bold" fill="#000" transform="rotate(-45 403.15 161.70)" stroke="#000" stroke-width="0.1">Control</text>
<text x="416.75" y="161.70" font-size="3.3" text-anchor="end" font-weight="bold" fill="#000" transform="rotate(-45 416.75 161.70)" stroke="#000" stroke-width="0.1">AZD-25 nM</text>
<text x="430.00" y="161.70" font-size="3.3" text-anchor="end" font-weight="bold" fill="#000" transform="rotate(-45 430.00 161.70)" stroke="#000" stroke-width="0.1">AZD-50nM</text>
<text x="443.38" y="161.70" font-size="3.3" text-anchor="end" font-weight="bold" fill="#000" transform="rotate(-45 443.38 161.70)" stroke="#000" stroke-width="0.1">AZD-75 nM</text>
<text x="456.75" y="161.70" font-size="3.3" text-anchor="end" font-weight="bold" fill="#000" transform="rotate(-45 456.75 161.70)" stroke="#000" stroke-width="0.1">AZD-100 nM</text>
<line x1="415.80" y1="139.75" x2="416.70" y2="139.75" stroke="#333" stroke-width="0.9" />
<line x1="414.65" y1="141.25" x2="417.85" y2="141.25" stroke="#555" stroke-width="0.5" />
<line x1="429.05" y1="138.50" x2="429.95" y2="138.50" stroke="#333" stroke-width="0.9" />
<line x1="427.90" y1="140.00" x2="431.10" y2="140.00" stroke="#555" stroke-width="0.5" />
<line x1="442.43" y1="134.75" x2="443.32" y2="134.75" stroke="#333" stroke-width="0.9" />
<line x1="441.27" y1="136.25" x2="444.48" y2="136.25" stroke="#555" stroke-width="0.5" />
<line x1="454.55" y1="116.25" x2="457.95" y2="116.25" stroke="#333" stroke-width="0.9" />
<line x1="454.65" y1="117.75" x2="457.85" y2="117.75" stroke="#555" stroke-width="0.5" />
<rect x="19.70" y="205.30" width="115.30" height="83.00" fill="#fff" stroke="#cfcfcf" stroke-width="1.0" />
<rect x="34.75" y="224.20" width="72.55" height="38.60" fill="#fff" stroke="#7a7a7a" stroke-width="0.8" />
<line x1="34.75" y1="256.37" x2="107.30" y2="256.37" stroke="#c4c4c4" stroke-width="0.6" />
<line x1="34.75" y1="249.93" x2="107.30" y2="249.93" stroke="#c4c4c4" stroke-width="0.6" />
<line x1="34.75" y1="243.50" x2="107.30" y2="243.50" stroke="#c4c4c4" stroke-width="0.6" />
<line x1="34.75" y1="237.07" x2="107.30" y2="237.07" stroke="#c4c4c4" stroke-width="0.6" />
<line x1="34.75" y1="230.63" x2="107.30" y2="230.63" stroke="#c4c4c4" stroke-width="0.6" />
<text x="33.15" y="263.90" font-size="3.0" text-anchor="end" font-weight="bold" fill="#333" >0</text>
<text x="33.15" y="257.47" font-size="3.0" text-anchor="end" font-weight="bold" fill="#333" >20</text>
<text x="33.15" y="251.03" font-size="3.0" text-anchor="end" font-weight="bold" fill="#333" >40</text>
<text x="33.15" y="244.60" font-size="3.0" text-anchor="end" font-weight="bold" fill="#333" >60</text>
<text x="33.15" y="238.17" font-size="3.0" text-anchor="end" font-weight="bold" fill="#333" >80</text>
<text x="33.15" y="231.73" font-size="3.0" text-anchor="end" font-weight="bold" fill="#333" >100</text>
<text x="33.15" y="225.30" font-size="3.0" text-anchor="end" font-weight="bold" fill="#333" >120</text>
<text x="72.10" y="211.90" font-size="5.2" text-anchor="middle" font-weight="bold" fill="#000" textLength="20.90" lengthAdjust="spacingAndGlyphs" >OCI-LY3</text>
<polyline points="41.00,230.63 52.80,230.63 64.80,231.28 76.80,240.28 88.80,241.89 100.90,246.40" fill="none" stroke="#000" stroke-width="0.8" />
<circle cx="41.00" cy="230.63" r="1.35" fill="#000"/>
<circle cx="52.80" cy="230.63" r="1.35" fill="#000"/>
<circle cx="64.80" cy="231.28" r="1.35" fill="#000"/>
<circle cx="76.80" cy="240.28" r="1.35" fill="#000"/>
<circle cx="88.80" cy="241.89" r="1.35" fill="#000"/>
<circle cx="100.90" cy="246.40" r="1.35" fill="#000"/>
<polyline points="41.00,230.63 52.80,230.63 64.80,243.50 76.80,249.93 88.80,251.54 100.90,253.15" fill="none" stroke="#000" stroke-width="0.8" stroke-dasharray="1.4,0.8"/>
<rect x="39.75" y="229.38" width="2.50" height="2.50" fill="#000" stroke="none" stroke-width="1" />
<rect x="51.55" y="229.38" width="2.50" height="2.50" fill="#000" stroke="none" stroke-width="1" />
<rect x="63.55" y="242.25" width="2.50" height="2.50" fill="#000" stroke="none" stroke-width="1" />
<rect x="75.55" y="248.68" width="2.50" height="2.50" fill="#000" stroke="none" stroke-width="1" />
<rect x="87.55" y="250.29" width="2.50" height="2.50" fill="#000" stroke="none" stroke-width="1" />
<rect x="99.65" y="251.90" width="2.50" height="2.50" fill="#000" stroke="none" stroke-width="1" />
<polyline points="41.00,230.63 52.80,230.63 64.80,246.72 76.80,250.90 88.80,252.19 100.90,253.15" fill="none" stroke="#000" stroke-width="0.8" stroke-dasharray="0.7,0.8"/>
<path d="M39.60,231.73 L42.40,231.73 L41.00,229.23Z" fill="#000"/>
<path d="M51.40,231.73 L54.20,231.73 L52.80,229.23Z" fill="#000"/>
<path d="M63.40,247.82 L66.20,247.82 L64.80,245.32Z" fill="#000"/>
<path d="M75.40,252.00 L78.20,252.00 L76.80,249.50Z" fill="#000"/>
<path d="M87.40,253.28 L90.20,253.28 L88.80,250.78Z" fill="#000"/>
<path d="M99.50,254.25 L102.30,254.25 L100.90,251.75Z" fill="#000"/>
<rect x="109.00" y="232.00" width="22.00" height="20.00" fill="#fff" stroke="#a8a8a8" stroke-width="0.6" />
<line x1="110.20" y1="234.90" x2="121.60" y2="234.90" stroke="#000" stroke-width="0.7" />
<circle cx="115.80" cy="234.90" r="1.1" fill="#000"/>
<text x="122.60" y="236.00" font-size="3.0" text-anchor="start" font-weight="bold" fill="#222" >24 hr</text>
<line x1="110.20" y1="242.30" x2="121.60" y2="242.30" stroke="#000" stroke-width="0.7" stroke-dasharray="1.4,0.8"/>
<circle cx="115.80" cy="242.30" r="1.1" fill="#000"/>
<text x="122.60" y="243.40" font-size="3.0" text-anchor="start" font-weight="bold" fill="#222" >48 hr</text>
<line x1="110.20" y1="249.60" x2="121.60" y2="249.60" stroke="#000" stroke-width="0.7" stroke-dasharray="0.7,0.8"/>
<circle cx="115.80" cy="249.60" r="1.1" fill="#000"/>
<text x="122.60" y="250.70" font-size="3.0" text-anchor="start" font-weight="bold" fill="#222" >72 hr</text>
<text x="25.30" y="242.00" font-size="4.8" text-anchor="middle" font-weight="bold" fill="#000" textLength="43.70" lengthAdjust="spacingAndGlyphs" transform="rotate(-90 25.30 242.00)" >Growth (% of Control)</text>
<text x="42.20" y="266.60" font-size="3.0" text-anchor="end" font-weight="bold" fill="#111" transform="rotate(-45 42.20 266.60)" stroke="#111" stroke-width="0.12">0</text>
<text x="54.00" y="266.60" font-size="3.0" text-anchor="end" font-weight="bold" fill="#111" transform="rotate(-45 54.00 266.60)" stroke="#111" stroke-width="0.12">50nM</text>
<text x="66.00" y="266.60" font-size="3.0" text-anchor="end" font-weight="bold" fill="#111" transform="rotate(-45 66.00 266.60)" stroke="#111" stroke-width="0.12">100 nM</text>
<text x="78.00" y="266.60" font-size="3.0" text-anchor="end" font-weight="bold" fill="#111" transform="rotate(-45 78.00 266.60)" stroke="#111" stroke-width="0.12">200 nM</text>
<text x="90.00" y="266.60" font-size="3.0" text-anchor="end" font-weight="bold" fill="#111" transform="rotate(-45 90.00 266.60)" stroke="#111" stroke-width="0.12">300 nM</text>
<text x="102.10" y="266.60" font-size="3.0" text-anchor="end" font-weight="bold" fill="#111" transform="rotate(-45 102.10 266.60)" stroke="#111" stroke-width="0.12">400 nM</text>
<text x="69.60" y="281.60" font-size="4.3" text-anchor="middle" font-weight="bold" fill="#000" textLength="17.30" lengthAdjust="spacingAndGlyphs" >AZD6244</text>
<text x="96.20" y="278.50" font-size="3.1" text-anchor="start" font-weight="bold" fill="#000" textLength="35.00" lengthAdjust="spacingAndGlyphs" >P=0.008 ctrl vs 400 nM</text>
<text x="96.20" y="284.10" font-size="3.1" text-anchor="start" font-weight="bold" fill="#000" textLength="30.80" lengthAdjust="spacingAndGlyphs" >P=0.003 24 vs 72 hr</text>
<rect x="143.30" y="205.60" width="115.10" height="83.00" fill="#fff" stroke="#cfcfcf" stroke-width="1.0" />
<rect x="158.40" y="225.10" width="71.20" height="38.40" fill="#fff" stroke="#7a7a7a" stroke-width="0.8" />
<line x1="158.40" y1="257.10" x2="229.60" y2="257.10" stroke="#c4c4c4" stroke-width="0.6" />
<line x1="158.40" y1="250.70" x2="229.60" y2="250.70" stroke="#c4c4c4" stroke-width="0.6" />
<line x1="158.40" y1="244.30" x2="229.60" y2="244.30" stroke="#c4c4c4" stroke-width="0.6" />
<line x1="158.40" y1="237.90" x2="229.60" y2="237.90" stroke="#c4c4c4" stroke-width="0.6" />
<line x1="158.40" y1="231.50" x2="229.60" y2="231.50" stroke="#c4c4c4" stroke-width="0.6" />
<text x="156.80" y="264.60" font-size="3.0" text-anchor="end" font-weight="bold" fill="#333" >0</text>
<text x="156.80" y="258.20" font-size="3.0" text-anchor="end" font-weight="bold" fill="#333" >20</text>
<text x="156.80" y="251.80" font-size="3.0" text-anchor="end" font-weight="bold" fill="#333" >40</text>
<text x="156.80" y="245.40" font-size="3.0" text-anchor="end" font-weight="bold" fill="#333" >60</text>
<text x="156.80" y="239.00" font-size="3.0" text-anchor="end" font-weight="bold" fill="#333" >80</text>
<text x="156.80" y="232.60" font-size="3.0" text-anchor="end" font-weight="bold" fill="#333" >100</text>
<text x="156.80" y="226.20" font-size="3.0" text-anchor="end" font-weight="bold" fill="#333" >120</text>
<text x="198.20" y="212.50" font-size="5.2" text-anchor="middle" font-weight="bold" fill="#000" textLength="21.50" lengthAdjust="spacingAndGlyphs" >SUDHL4</text>
<polyline points="164.50,231.50 176.40,232.14 187.90,232.46 199.80,242.70 211.50,245.26 223.00,248.14" fill="none" stroke="#000" stroke-width="0.8" />
<circle cx="164.50" cy="231.50" r="1.35" fill="#000"/>
<circle cx="176.40" cy="232.14" r="1.35" fill="#000"/>
<circle cx="187.90" cy="232.46" r="1.35" fill="#000"/>
<circle cx="199.80" cy="242.70" r="1.35" fill="#000"/>
<circle cx="211.50" cy="245.26" r="1.35" fill="#000"/>
<circle cx="223.00" cy="248.14" r="1.35" fill="#000"/>
<polyline points="164.50,231.50 176.40,233.10 187.90,248.14 199.80,253.90 211.50,257.10 223.00,258.06" fill="none" stroke="#000" stroke-width="0.8" stroke-dasharray="1.4,0.8"/>
<rect x="163.25" y="230.25" width="2.50" height="2.50" fill="#000" stroke="none" stroke-width="1" />
<rect x="175.15" y="231.85" width="2.50" height="2.50" fill="#000" stroke="none" stroke-width="1" />
<rect x="186.65" y="246.89" width="2.50" height="2.50" fill="#000" stroke="none" stroke-width="1" />
<rect x="198.55" y="252.65" width="2.50" height="2.50" fill="#000" stroke="none" stroke-width="1" />
<rect x="210.25" y="255.85" width="2.50" height="2.50" fill="#000" stroke="none" stroke-width="1" />
<rect x="221.75" y="256.81" width="2.50" height="2.50" fill="#000" stroke="none" stroke-width="1" />
<polyline points="164.50,231.50 176.40,231.50 187.90,252.30 199.80,253.90 211.50,257.10 223.00,258.70" fill="none" stroke="#000" stroke-width="0.8" stroke-dasharray="0.7,0.8"/>
<path d="M163.10,232.60 L165.90,232.60 L164.50,230.10Z" fill="#000"/>
<path d="M175.00,232.60 L177.80,232.60 L176.40,230.10Z" fill="#000"/>
<path d="M186.50,253.40 L189.30,253.40 L187.90,250.90Z" fill="#000"/>
<path d="M198.40,255.00 L201.20,255.00 L199.80,252.50Z" fill="#000"/>
<path d="M210.10,258.20 L212.90,258.20 L211.50,255.70Z" fill="#000"/>
<path d="M221.60,259.80 L224.40,259.80 L223.00,257.30Z" fill="#000"/>
<rect x="235.80" y="236.20" width="22.10" height="19.50" fill="#fff" stroke="#a8a8a8" stroke-width="0.6" />
<line x1="237.00" y1="238.80" x2="247.80" y2="238.80" stroke="#000" stroke-width="0.7" />
<circle cx="242.30" cy="238.80" r="1.1" fill="#000"/>
<text x="248.80" y="239.90" font-size="3.0" text-anchor="start" font-weight="bold" fill="#222" >24 hr</text>
<line x1="237.00" y1="245.60" x2="247.80" y2="245.60" stroke="#000" stroke-width="0.7" stroke-dasharray="1.4,0.8"/>
<circle cx="242.30" cy="245.60" r="1.1" fill="#000"/>
<text x="248.80" y="246.70" font-size="3.0" text-anchor="start" font-weight="bold" fill="#222" >48 hr</text>
<line x1="237.00" y1="252.10" x2="247.80" y2="252.10" stroke="#000" stroke-width="0.7" stroke-dasharray="0.7,0.8"/>
<circle cx="242.30" cy="252.10" r="1.1" fill="#000"/>
<text x="248.80" y="253.20" font-size="3.0" text-anchor="start" font-weight="bold" fill="#222" >72 hr</text>
<text x="148.90" y="245.00" font-size="4.8" text-anchor="middle" font-weight="bold" fill="#000" textLength="46.60" lengthAdjust="spacingAndGlyphs" transform="rotate(-90 148.90 245.00)" >Growth (% of Control)</text>
<text x="165.70" y="267.30" font-size="3.0" text-anchor="end" font-weight="bold" fill="#111" transform="rotate(-45 165.70 267.30)" stroke="#111" stroke-width="0.12">0</text>
<text x="177.60" y="267.30" font-size="3.0" text-anchor="end" font-weight="bold" fill="#111" transform="rotate(-45 177.60 267.30)" stroke="#111" stroke-width="0.12">50nM</text>
<text x="189.10" y="267.30" font-size="3.0" text-anchor="end" font-weight="bold" fill="#111" transform="rotate(-45 189.10 267.30)" stroke="#111" stroke-width="0.12">100 nM</text>
<text x="201.00" y="267.30" font-size="3.0" text-anchor="end" font-weight="bold" fill="#111" transform="rotate(-45 201.00 267.30)" stroke="#111" stroke-width="0.12">200 nM</text>
<text x="212.70" y="267.30" font-size="3.0" text-anchor="end" font-weight="bold" fill="#111" transform="rotate(-45 212.70 267.30)" stroke="#111" stroke-width="0.12">300 nM</text>
<text x="224.20" y="267.30" font-size="3.0" text-anchor="end" font-weight="bold" fill="#111" transform="rotate(-45 224.20 267.30)" stroke="#111" stroke-width="0.12">400 nM</text>
<text x="194.00" y="284.00" font-size="4.3" text-anchor="middle" font-weight="bold" fill="#000" textLength="18.70" lengthAdjust="spacingAndGlyphs" >AZD 6244</text>
<text x="220.00" y="279.80" font-size="3.1" text-anchor="start" font-weight="bold" fill="#000" textLength="35.20" lengthAdjust="spacingAndGlyphs" >P=0.008 ctrl vs 400 nM</text>
<text x="220.00" y="286.20" font-size="3.1" text-anchor="start" font-weight="bold" fill="#000" textLength="30.80" lengthAdjust="spacingAndGlyphs" >P=0.003 24 vs 72 hr</text>
<rect x="19.50" y="295.60" width="115.30" height="83.80" fill="#fff" stroke="#cfcfcf" stroke-width="1.0" />
<rect x="38.30" y="312.90" width="70.00" height="42.80" fill="#fff" stroke="#7a7a7a" stroke-width="0.8" />
<line x1="38.30" y1="348.57" x2="108.30" y2="348.57" stroke="#c4c4c4" stroke-width="0.6" />
<line x1="38.30" y1="341.43" x2="108.30" y2="341.43" stroke="#c4c4c4" stroke-width="0.6" />
<line x1="38.30" y1="334.30" x2="108.30" y2="334.30" stroke="#c4c4c4" stroke-width="0.6" />
<line x1="38.30" y1="327.17" x2="108.30" y2="327.17" stroke="#c4c4c4" stroke-width="0.6" />
<line x1="38.30" y1="320.03" x2="108.30" y2="320.03" stroke="#c4c4c4" stroke-width="0.6" />
<text x="36.70" y="356.80" font-size="3.0" text-anchor="end" font-weight="bold" fill="#333" >0</text>
<text x="36.70" y="349.67" font-size="3.0" text-anchor="end" font-weight="bold" fill="#333" >20</text>
<text x="36.70" y="342.53" font-size="3.0" text-anchor="end" font-weight="bold" fill="#333" >40</text>
<text x="36.70" y="335.40" font-size="3.0" text-anchor="end" font-weight="bold" fill="#333" >60</text>
<text x="36.70" y="328.27" font-size="3.0" text-anchor="end" font-weight="bold" fill="#333" >80</text>
<text x="36.70" y="321.13" font-size="3.0" text-anchor="end" font-weight="bold" fill="#333" >100</text>
<text x="36.70" y="314.00" font-size="3.0" text-anchor="end" font-weight="bold" fill="#333" >120</text>
<text x="73.00" y="301.90" font-size="5.2" text-anchor="middle" font-weight="bold" fill="#000" textLength="25.20" lengthAdjust="spacingAndGlyphs" >OCI-LY19</text>
<polyline points="44.60,320.03 56.10,320.75 67.40,320.03 79.00,321.10 90.50,334.30 102.10,339.65" fill="none" stroke="#000" stroke-width="0.8" />
<circle cx="44.60" cy="320.03" r="1.35" fill="#000"/>
<circle cx="56.10" cy="320.75" r="1.35" fill="#000"/>
<circle cx="67.40" cy="320.03" r="1.35" fill="#000"/>
<circle cx="79.00" cy="321.10" r="1.35" fill="#000"/>
<circle cx="90.50" cy="334.30" r="1.35" fill="#000"/>
<circle cx="102.10" cy="339.65" r="1.35" fill="#000"/>
<polyline points="44.60,320.03 56.10,321.10 67.40,322.53 79.00,325.38 90.50,342.15 102.10,349.28" fill="none" stroke="#000" stroke-width="0.8" stroke-dasharray="1.4,0.8"/>
<rect x="43.35" y="318.78" width="2.50" height="2.50" fill="#000" stroke="none" stroke-width="1" />
<rect x="54.85" y="319.85" width="2.50" height="2.50" fill="#000" stroke="none" stroke-width="1" />
<rect x="66.15" y="321.28" width="2.50" height="2.50" fill="#000" stroke="none" stroke-width="1" />
<rect x="77.75" y="324.13" width="2.50" height="2.50" fill="#000" stroke="none" stroke-width="1" />
<rect x="89.25" y="340.90" width="2.50" height="2.50" fill="#000" stroke="none" stroke-width="1" />
<rect x="100.85" y="348.03" width="2.50" height="2.50" fill="#000" stroke="none" stroke-width="1" />
<polyline points="44.60,320.03 56.10,321.10 67.40,320.75 79.00,327.17 90.50,346.78 102.10,350.35" fill="none" stroke="#000" stroke-width="0.8" stroke-dasharray="0.7,0.8"/>
<path d="M43.20,321.13 L46.00,321.13 L44.60,318.63Z" fill="#000"/>
<path d="M54.70,322.20 L57.50,322.20 L56.10,319.70Z" fill="#000"/>
<path d="M66.00,321.85 L68.80,321.85 L67.40,319.35Z" fill="#000"/>
<path d="M77.60,328.27 L80.40,328.27 L79.00,325.77Z" fill="#000"/>
<path d="M89.10,347.88 L91.90,347.88 L90.50,345.38Z" fill="#000"/>
<path d="M100.70,351.45 L103.50,351.45 L102.10,348.95Z" fill="#000"/>
<rect x="111.70" y="322.90" width="22.70" height="16.40" fill="#fff" stroke="#a8a8a8" stroke-width="0.6" />
<line x1="112.90" y1="325.70" x2="125.20" y2="325.70" stroke="#000" stroke-width="0.7" />
<circle cx="119.30" cy="325.70" r="1.1" fill="#000"/>
<text x="126.20" y="326.80" font-size="3.0" text-anchor="start" font-weight="bold" fill="#222" >24 hr</text>
<line x1="112.90" y1="330.70" x2="125.20" y2="330.70" stroke="#000" stroke-width="0.7" stroke-dasharray="1.4,0.8"/>
<circle cx="119.30" cy="330.70" r="1.1" fill="#000"/>
<text x="126.20" y="331.80" font-size="3.0" text-anchor="start" font-weight="bold" fill="#222" >48 hr</text>
<line x1="112.90" y1="335.40" x2="125.20" y2="335.40" stroke="#000" stroke-width="0.7" stroke-dasharray="0.7,0.8"/>
<circle cx="119.30" cy="335.40" r="1.1" fill="#000"/>
<text x="126.20" y="336.50" font-size="3.0" text-anchor="start" font-weight="bold" fill="#222" >72 hr</text>
<text x="27.70" y="333.90" font-size="4.8" text-anchor="middle" font-weight="bold" fill="#000" textLength="40.00" lengthAdjust="spacingAndGlyphs" transform="rotate(-90 27.70 333.90)" >Growth (% of Control)</text>
<text x="45.80" y="359.50" font-size="3.0" text-anchor="end" font-weight="bold" fill="#111" transform="rotate(-45 45.80 359.50)" stroke="#111" stroke-width="0.12">Control</text>
<text x="57.30" y="359.50" font-size="3.0" text-anchor="end" font-weight="bold" fill="#111" transform="rotate(-45 57.30 359.50)" stroke="#111" stroke-width="0.12">50 nM</text>
<text x="68.60" y="359.50" font-size="3.0" text-anchor="end" font-weight="bold" fill="#111" transform="rotate(-45 68.60 359.50)" stroke="#111" stroke-width="0.12">100 nM</text>
<text x="80.20" y="359.50" font-size="3.0" text-anchor="end" font-weight="bold" fill="#111" transform="rotate(-45 80.20 359.50)" stroke="#111" stroke-width="0.12">200 nM</text>
<text x="91.70" y="359.50" font-size="3.0" text-anchor="end" font-weight="bold" fill="#111" transform="rotate(-45 91.70 359.50)" stroke="#111" stroke-width="0.12">300 nM</text>
<text x="103.30" y="359.50" font-size="3.0" text-anchor="end" font-weight="bold" fill="#111" transform="rotate(-45 103.30 359.50)" stroke="#111" stroke-width="0.12">400 nM</text>
<text x="72.00" y="375.10" font-size="4.3" text-anchor="middle" font-weight="bold" fill="#000" textLength="20.20" lengthAdjust="spacingAndGlyphs" >AZD6244</text>
<text x="96.20" y="371.30" font-size="3.1" text-anchor="start" font-weight="bold" fill="#000" textLength="35.90" lengthAdjust="spacingAndGlyphs" >P=0.008ctrl vs 400 nM</text>
<text x="96.20" y="376.90" font-size="3.1" text-anchor="start" font-weight="bold" fill="#000" textLength="30.80" lengthAdjust="spacingAndGlyphs" >P=0.008 24 vs 72 hr</text>
<rect x="143.30" y="295.80" width="114.80" height="83.40" fill="#fff" stroke="#cfcfcf" stroke-width="1.0" />
<rect x="161.40" y="312.90" width="70.70" height="43.50" fill="#fff" stroke="#7a7a7a" stroke-width="0.8" />
<line x1="161.40" y1="349.15" x2="232.10" y2="349.15" stroke="#c4c4c4" stroke-width="0.6" />
<line x1="161.40" y1="341.90" x2="232.10" y2="341.90" stroke="#c4c4c4" stroke-width="0.6" />
<line x1="161.40" y1="334.65" x2="232.10" y2="334.65" stroke="#c4c4c4" stroke-width="0.6" />
<line x1="161.40" y1="327.40" x2="232.10" y2="327.40" stroke="#c4c4c4" stroke-width="0.6" />
<line x1="161.40" y1="320.15" x2="232.10" y2="320.15" stroke="#c4c4c4" stroke-width="0.6" />
<text x="159.80" y="357.50" font-size="3.0" text-anchor="end" font-weight="bold" fill="#333" >0</text>
<text x="159.80" y="350.25" font-size="3.0" text-anchor="end" font-weight="bold" fill="#333" >20</text>
<text x="159.80" y="343.00" font-size="3.0" text-anchor="end" font-weight="bold" fill="#333" >40</text>
<text x="159.80" y="335.75" font-size="3.0" text-anchor="end" font-weight="bold" fill="#333" >60</text>
<text x="159.80" y="328.50" font-size="3.0" text-anchor="end" font-weight="bold" fill="#333" >80</text>
<text x="159.80" y="321.25" font-size="3.0" text-anchor="end" font-weight="bold" fill="#333" >100</text>
<text x="159.80" y="314.00" font-size="3.0" text-anchor="end" font-weight="bold" fill="#333" >120</text>
<text x="198.00" y="301.90" font-size="5.2" text-anchor="middle" font-weight="bold" fill="#000" textLength="21.80" lengthAdjust="spacingAndGlyphs" >SUDHL6</text>
<polyline points="168.10,320.15 179.70,320.15 191.40,320.88 202.90,321.24 214.50,331.75 226.10,331.75" fill="none" stroke="#000" stroke-width="0.8" />
<circle cx="168.10" cy="320.15" r="1.35" fill="#000"/>
<circle cx="179.70" cy="320.15" r="1.35" fill="#000"/>
<circle cx="191.40" cy="320.88" r="1.35" fill="#000"/>
<circle cx="202.90" cy="321.24" r="1.35" fill="#000"/>
<circle cx="214.50" cy="331.75" r="1.35" fill="#000"/>
<circle cx="226.10" cy="331.75" r="1.35" fill="#000"/>
<polyline points="168.10,320.15 179.70,320.88 191.40,321.96 202.90,335.74 214.50,344.44 226.10,346.61" fill="none" stroke="#000" stroke-width="0.8" stroke-dasharray="1.4,0.8"/>
<rect x="166.85" y="318.90" width="2.50" height="2.50" fill="#000" stroke="none" stroke-width="1" />
<rect x="178.45" y="319.62" width="2.50" height="2.50" fill="#000" stroke="none" stroke-width="1" />
<rect x="190.15" y="320.71" width="2.50" height="2.50" fill="#000" stroke="none" stroke-width="1" />
<rect x="201.65" y="334.49" width="2.50" height="2.50" fill="#000" stroke="none" stroke-width="1" />
<rect x="213.25" y="343.19" width="2.50" height="2.50" fill="#000" stroke="none" stroke-width="1" />
<rect x="224.85" y="345.36" width="2.50" height="2.50" fill="#000" stroke="none" stroke-width="1" />
<polyline points="168.10,320.15 179.70,320.88 191.40,320.15 202.90,336.46 214.50,344.44 226.10,347.34" fill="none" stroke="#000" stroke-width="0.8" stroke-dasharray="0.7,0.8"/>
<path d="M166.70,321.25 L169.50,321.25 L168.10,318.75Z" fill="#000"/>
<path d="M178.30,321.98 L181.10,321.98 L179.70,319.48Z" fill="#000"/>
<path d="M190.00,321.25 L192.80,321.25 L191.40,318.75Z" fill="#000"/>
<path d="M201.50,337.56 L204.30,337.56 L202.90,335.06Z" fill="#000"/>
<path d="M213.10,345.54 L215.90,345.54 L214.50,343.04Z" fill="#000"/>
<path d="M224.70,348.44 L227.50,348.44 L226.10,345.94Z" fill="#000"/>
<rect x="234.30" y="325.00" width="22.10" height="15.00" fill="#fff" stroke="#a8a8a8" stroke-width="0.6" />
<line x1="235.50" y1="327.10" x2="247.40" y2="327.10" stroke="#000" stroke-width="0.7" />
<circle cx="241.40" cy="327.10" r="1.1" fill="#000"/>
<text x="248.40" y="328.20" font-size="3.0" text-anchor="start" font-weight="bold" fill="#222" >24 hr</text>
<line x1="235.50" y1="331.90" x2="247.40" y2="331.90" stroke="#000" stroke-width="0.7" stroke-dasharray="1.4,0.8"/>
<circle cx="241.40" cy="331.90" r="1.1" fill="#000"/>
<text x="248.40" y="333.00" font-size="3.0" text-anchor="start" font-weight="bold" fill="#222" >48 hr</text>
<line x1="235.50" y1="336.70" x2="247.40" y2="336.70" stroke="#000" stroke-width="0.7" stroke-dasharray="0.7,0.8"/>
<circle cx="241.40" cy="336.70" r="1.1" fill="#000"/>
<text x="248.40" y="337.80" font-size="3.0" text-anchor="start" font-weight="bold" fill="#222" >72 hr</text>
<text x="152.00" y="334.60" font-size="4.8" text-anchor="middle" font-weight="bold" fill="#000" textLength="38.50" lengthAdjust="spacingAndGlyphs" transform="rotate(-90 152.00 334.60)" >Growth (% of Control)</text>
<text x="169.30" y="360.20" font-size="3.0" text-anchor="end" font-weight="bold" fill="#111" transform="rotate(-45 169.30 360.20)" stroke="#111" stroke-width="0.12">Control</text>
<text x="180.90" y="360.20" font-size="3.0" text-anchor="end" font-weight="bold" fill="#111" transform="rotate(-45 180.90 360.20)" stroke="#111" stroke-width="0.12">50 nM</text>
<text x="192.60" y="360.20" font-size="3.0" text-anchor="end" font-weight="bold" fill="#111" transform="rotate(-45 192.60 360.20)" stroke="#111" stroke-width="0.12">100 nM</text>
<text x="204.10" y="360.20" font-size="3.0" text-anchor="end" font-weight="bold" fill="#111" transform="rotate(-45 204.10 360.20)" stroke="#111" stroke-width="0.12">200 nM</text>
<text x="215.70" y="360.20" font-size="3.0" text-anchor="end" font-weight="bold" fill="#111" transform="rotate(-45 215.70 360.20)" stroke="#111" stroke-width="0.12">300 nM</text>
<text x="227.30" y="360.20" font-size="3.0" text-anchor="end" font-weight="bold" fill="#111" transform="rotate(-45 227.30 360.20)" stroke="#111" stroke-width="0.12">400 nM</text>
<text x="197.70" y="375.30" font-size="4.3" text-anchor="middle" font-weight="bold" fill="#000" textLength="17.00" lengthAdjust="spacingAndGlyphs" >AZD6244</text>
<text x="220.00" y="372.40" font-size="3.1" text-anchor="start" font-weight="bold" fill="#000" textLength="33.80" lengthAdjust="spacingAndGlyphs" >P=0.01 ctrl vs 400 nM</text>
<text x="220.00" y="378.30" font-size="3.1" text-anchor="start" font-weight="bold" fill="#000" textLength="30.80" lengthAdjust="spacingAndGlyphs" >P=0.008 24 vs 72 hr</text>
<defs><filter id="bl" x="-10%" y="-10%" width="120%" height="120%"><feGaussianBlur stdDeviation="0.7"/></filter><filter id="bl2" x="-20%" y="-20%" width="140%" height="140%"><feGaussianBlur stdDeviation="1.2"/></filter><filter id="fur" x="-5%" y="-5%" width="110%" height="110%"><feGaussianBlur in="SourceGraphic" stdDeviation="0.7" result="b"/><feTurbulence type="fractalNoise" baseFrequency="0.22" numOctaves="2" seed="7" result="n"/><feColorMatrix in="n" type="matrix" values="0 0 0 0 0.62  0 0 0 0 0.55  0 0 0 0 0.55  0 0 0 -2.0 1.15" result="nc"/><feComposite in="nc" in2="SourceAlpha" operator="in" result="nm"/><feGaussianBlur in="nm" stdDeviation="0.45" result="nmb"/><feMerge><feMergeNode in="b"/><feMergeNode in="nmb"/></feMerge></filter><clipPath id="pc"><rect x="285.5" y="208.8" width="100.6" height="65"/></clipPath></defs>
<defs><linearGradient id="bg" x1="0" y1="0" x2="1" y2="1"><stop offset="0" stop-color="#4ccbf4"/><stop offset="1" stop-color="#33bbe6"/></linearGradient></defs>
<rect x="285.00" y="208.30" width="101.60" height="66.00" fill="url(#bg)" stroke="#24596a" stroke-width="1.1" />
<g clip-path="url(#pc)">
<g filter="url(#bl)">
<ellipse cx="302.9" cy="256.5" rx="12.1" ry="3.8" fill="#0c1e3c" opacity="0.95" filter="url(#bl2)"/>
<path d="M294.5,250.0 L291.0,257.8" stroke="#a06c68" stroke-width="3" stroke-linecap="round"/>
<circle cx="291.0" cy="257.8" r="1.2" fill="#7a4a4a"/>
<path d="M310.0,250.0 L309.3,259.8" stroke="#a06c68" stroke-width="3" stroke-linecap="round"/>
<circle cx="309.3" cy="259.8" r="1.2" fill="#7a4a4a"/>
<path d="M300.2,252.0 Q300.2,263.5 299.5,275.0" stroke="#dcc8c6" stroke-width="1.5" fill="none"/>
<ellipse cx="325.8" cy="256.5" rx="10.8" ry="3.8" fill="#0c1e3c" opacity="0.95" filter="url(#bl2)"/>
<path d="M319.0,250.0 L317.0,258.5" stroke="#a06c68" stroke-width="3" stroke-linecap="round"/>
<circle cx="317.0" cy="258.5" r="1.2" fill="#7a4a4a"/>
<path d="M332.5,250.0 L333.5,259.0" stroke="#a06c68" stroke-width="3" stroke-linecap="round"/>
<circle cx="333.5" cy="259.0" r="1.2" fill="#7a4a4a"/>
<path d="M326.0,252.0 Q325.3,263.5 324.0,275.0" stroke="#dcc8c6" stroke-width="1.5" fill="none"/>
<ellipse cx="348.2" cy="256.5" rx="11.8" ry="3.8" fill="#0c1e3c" opacity="0.95" filter="url(#bl2)"/>
<path d="M341.0,250.0 L336.0,260.4" stroke="#a06c68" stroke-width="3" stroke-linecap="round"/>
<circle cx="336.0" cy="260.4" r="1.2" fill="#7a4a4a"/>
<path d="M355.5,250.0 L357.5,262.8" stroke="#a06c68" stroke-width="3" stroke-linecap="round"/>
<circle cx="357.5" cy="262.8" r="1.2" fill="#7a4a4a"/>
<path d="M348.5,252.0 Q348.7,263.5 348.3,275.0" stroke="#dcc8c6" stroke-width="1.5" fill="none"/>
<ellipse cx="372.3" cy="256.5" rx="12.5" ry="3.8" fill="#0c1e3c" opacity="0.95" filter="url(#bl2)"/>
<path d="M365.5,250.0 L365.7,262.5" stroke="#a06c68" stroke-width="3" stroke-linecap="round"/>
<circle cx="365.7" cy="262.5" r="1.2" fill="#7a4a4a"/>
<path d="M381.0,250.0 L383.0,258.5" stroke="#a06c68" stroke-width="3" stroke-linecap="round"/>
<circle cx="383.0" cy="258.5" r="1.2" fill="#7a4a4a"/>
<path d="M376.6,252.0 Q376.8,263.5 376.4,275.0" stroke="#dcc8c6" stroke-width="1.5" fill="none"/>
</g><g filter="url(#fur)">
<path d="M306.25,218.50 C307.12,218.63 307.77,218.63 308.50,219.30 C309.23,219.97 310.02,221.05 310.60,222.50 C311.18,223.95 311.47,225.08 312.00,228.00 C312.53,230.92 313.43,236.50 313.80,240.00 C314.17,243.50 315.08,246.62 314.20,249.00 C313.32,251.38 311.36,253.42 308.53,254.30 C305.69,255.18 300.01,255.18 297.18,254.30 C294.34,253.42 292.40,251.38 291.50,249.00 C290.60,246.62 291.35,243.50 291.80,240.00 C292.25,236.50 293.07,230.92 294.20,228.00 C295.33,225.08 297.47,223.95 298.60,222.50 C299.73,221.05 300.23,219.97 301.00,219.30 C301.77,218.63 302.38,218.63 303.25,218.50 C304.12,218.37 305.38,218.37 306.25,218.50 Z" fill="#eee8e5"/>
<g opacity="0.85" filter="url(#bl2)"><ellipse cx="298.1" cy="246.3" rx="4.8" ry="6" fill="#b09692"/><ellipse cx="307.6" cy="246.3" rx="4.8" ry="6" fill="#b09692"/></g>
<g filter="url(#bl)"><ellipse cx="294.0" cy="251.8" rx="2.2" ry="2" fill="#f2eeec"/><ellipse cx="311.7" cy="251.8" rx="2.2" ry="2" fill="#f2eeec"/><ellipse cx="300.2" cy="251.8" rx="2" ry="2" fill="#ede6e4"/></g>
<ellipse cx="304.8" cy="231.5" rx="6.8" ry="5" fill="#e4d6d4" opacity="0.35" filter="url(#bl2)"/>
<circle cx="298.8" cy="220.3" r="1.5" fill="#d8c8c6"/>
<circle cx="308.7" cy="221.2" r="1.7" fill="#d49894"/>
<path d="M326.50,220.60 C327.58,220.73 328.98,220.75 330.00,221.40 C331.02,222.05 331.87,223.07 332.60,224.50 C333.33,225.93 333.90,227.42 334.40,230.00 C334.90,232.58 335.37,236.83 335.60,240.00 C335.83,243.17 336.60,246.62 335.80,249.00 C335.00,251.38 333.30,253.42 330.80,254.30 C328.30,255.18 323.30,255.18 320.80,254.30 C318.30,253.42 316.63,251.38 315.80,249.00 C314.97,246.62 315.73,243.17 315.80,240.00 C315.87,236.83 315.83,232.58 316.20,230.00 C316.57,227.42 317.37,225.93 318.00,224.50 C318.63,223.07 319.08,222.05 320.00,221.40 C320.92,220.75 322.42,220.73 323.50,220.60 C324.58,220.47 325.42,220.47 326.50,220.60 Z" fill="#eee8e5"/>
<g opacity="0.75" filter="url(#bl2)"><ellipse cx="321.6" cy="246.3" rx="4.2" ry="6" fill="#c6b8b0"/><ellipse cx="330.0" cy="246.3" rx="4.2" ry="6" fill="#c6b8b0"/></g>
<g filter="url(#bl)"><ellipse cx="318.0" cy="251.8" rx="2.2" ry="2" fill="#f2eeec"/><ellipse cx="333.6" cy="251.8" rx="2.2" ry="2" fill="#f2eeec"/><ellipse cx="326.0" cy="251.8" rx="2" ry="2" fill="#ede6e4"/></g>
<ellipse cx="325.0" cy="233.6" rx="6.0" ry="5" fill="#e4d6d4" opacity="0.35" filter="url(#bl2)"/>
<circle cx="318.8" cy="222.0" r="1.5" fill="#d8c8c6"/>
<circle cx="331.4" cy="222.3" r="1.7" fill="#d49894"/>
<path d="M349.00,219.30 C350.08,219.43 351.53,219.45 352.50,220.10 C353.47,220.75 354.17,221.78 354.80,223.20 C355.43,224.62 355.77,226.13 356.30,228.60 C356.83,231.07 357.52,234.60 358.00,238.00 C358.48,241.40 359.92,246.28 359.20,249.00 C358.48,251.72 356.45,253.42 353.70,254.30 C350.95,255.18 345.45,255.18 342.70,254.30 C339.95,253.42 338.12,251.72 337.20,249.00 C336.28,246.28 337.23,241.40 337.20,238.00 C337.17,234.60 336.50,231.07 337.00,228.60 C337.50,226.13 339.28,224.62 340.20,223.20 C341.12,221.78 341.53,220.75 342.50,220.10 C343.47,219.45 344.92,219.43 346.00,219.30 C347.08,219.17 347.92,219.17 349.00,219.30 Z" fill="#eee8e5"/>
<g opacity="0.9" filter="url(#bl2)"><ellipse cx="343.6" cy="246.3" rx="4.6" ry="6" fill="#958078"/><ellipse cx="352.8" cy="246.3" rx="4.6" ry="6" fill="#958078"/></g>
<g filter="url(#bl)"><ellipse cx="339.6" cy="251.8" rx="2.2" ry="2" fill="#f2eeec"/><ellipse cx="356.8" cy="251.8" rx="2.2" ry="2" fill="#f2eeec"/><ellipse cx="348.5" cy="251.8" rx="2" ry="2" fill="#ede6e4"/></g>
<ellipse cx="347.5" cy="232.3" rx="6.6" ry="5" fill="#e4d6d4" opacity="0.35" filter="url(#bl2)"/>
<circle cx="341.8" cy="221.3" r="1.5" fill="#d8c8c6"/>
<circle cx="352.7" cy="220.3" r="1.7" fill="#d49894"/>
<path d="M371.40,219.30 C372.50,219.43 374.03,219.45 375.00,220.10 C375.97,220.75 376.42,221.78 377.20,223.20 C377.98,224.62 378.77,226.13 379.70,228.60 C380.63,231.07 382.08,234.60 382.80,238.00 C383.52,241.40 384.77,246.28 384.00,249.00 C383.23,251.72 381.07,253.42 378.15,254.30 C375.22,255.18 369.38,255.18 366.45,254.30 C363.53,253.42 361.54,251.72 360.60,249.00 C359.66,246.28 360.77,241.40 360.80,238.00 C360.83,234.60 360.47,231.07 360.80,228.60 C361.13,226.13 362.13,224.62 362.80,223.20 C363.47,221.78 363.87,220.75 364.80,220.10 C365.73,219.45 367.30,219.43 368.40,219.30 C369.50,219.17 370.30,219.17 371.40,219.30 Z" fill="#eee8e5"/>
<g opacity="0.9" filter="url(#bl2)"><ellipse cx="367.4" cy="246.3" rx="4.9" ry="6" fill="#958078"/><ellipse cx="377.2" cy="246.3" rx="4.9" ry="6" fill="#958078"/></g>
<g filter="url(#bl)"><ellipse cx="363.2" cy="251.8" rx="2.2" ry="2" fill="#f2eeec"/><ellipse cx="381.4" cy="251.8" rx="2.2" ry="2" fill="#f2eeec"/><ellipse cx="376.6" cy="251.8" rx="2" ry="2" fill="#ede6e4"/></g>
<ellipse cx="369.9" cy="232.3" rx="7.0" ry="5" fill="#e4d6d4" opacity="0.35" filter="url(#bl2)"/>
<circle cx="364.5" cy="222.0" r="1.5" fill="#d8c8c6"/>
<circle cx="375.2" cy="221.3" r="1.7" fill="#d49894"/>
</g>
</g>
<line x1="285.00" y1="277.30" x2="333.20" y2="277.30" stroke="#b0a0a0" stroke-width="0.8" />
<line x1="339.80" y1="277.30" x2="387.30" y2="277.30" stroke="#b0a0a0" stroke-width="0.8" />
<text x="308.00" y="284.40" font-size="4.4" text-anchor="middle" font-weight="bold" fill="#000" textLength="18.70" lengthAdjust="spacingAndGlyphs" stroke="#000" stroke-width="0.15">AZD6244</text>
<text x="361.20" y="284.40" font-size="4.4" text-anchor="middle" font-weight="bold" fill="#000" textLength="16.30" lengthAdjust="spacingAndGlyphs" stroke="#000" stroke-width="0.15">Control</text>
<rect x="399.50" y="201.80" width="102.50" height="78.50" fill="#fff" stroke="#a8a8a8" stroke-width="0.8" />
<line x1="412.50" y1="208.10" x2="412.50" y2="262.20" stroke="#a0a0a0" stroke-width="0.8" />
<line x1="412.50" y1="262.20" x2="497.00" y2="262.20" stroke="#a0a0a0" stroke-width="0.8" />
<line x1="411.20" y1="262.20" x2="412.50" y2="262.20" stroke="#888" stroke-width="0.5" />
<text x="409.90" y="263.50" font-size="3.7" text-anchor="end" font-weight="bold" fill="#222" >0</text>
<line x1="411.20" y1="253.18" x2="412.50" y2="253.18" stroke="#888" stroke-width="0.5" />
<text x="409.90" y="254.48" font-size="3.7" text-anchor="end" font-weight="bold" fill="#222" >1</text>
<line x1="411.20" y1="244.17" x2="412.50" y2="244.17" stroke="#888" stroke-width="0.5" />
<text x="409.90" y="245.47" font-size="3.7" text-anchor="end" font-weight="bold" fill="#222" >2</text>
<line x1="411.20" y1="235.15" x2="412.50" y2="235.15" stroke="#888" stroke-width="0.5" />
<text x="409.90" y="236.45" font-size="3.7" text-anchor="end" font-weight="bold" fill="#222" >3</text>
<line x1="411.20" y1="226.13" x2="412.50" y2="226.13" stroke="#888" stroke-width="0.5" />
<text x="409.90" y="227.43" font-size="3.7" text-anchor="end" font-weight="bold" fill="#222" >4</text>
<line x1="411.20" y1="217.12" x2="412.50" y2="217.12" stroke="#888" stroke-width="0.5" />
<text x="409.90" y="218.42" font-size="3.7" text-anchor="end" font-weight="bold" fill="#222" >5</text>
<line x1="411.20" y1="208.10" x2="412.50" y2="208.10" stroke="#888" stroke-width="0.5" />
<text x="409.90" y="209.40" font-size="3.7" text-anchor="end" font-weight="bold" fill="#222" >6</text>
<line x1="416.60" y1="262.20" x2="416.60" y2="263.40" stroke="#888" stroke-width="0.5" />
<text x="416.60" y="269.60" font-size="3.6" text-anchor="middle" font-weight="bold" fill="#111" stroke="#111" stroke-width="0.12">14</text>
<line x1="426.30" y1="262.20" x2="426.30" y2="263.40" stroke="#888" stroke-width="0.5" />
<text x="426.30" y="269.60" font-size="3.6" text-anchor="middle" font-weight="bold" fill="#111" stroke="#111" stroke-width="0.12">16</text>
<line x1="435.40" y1="262.20" x2="435.40" y2="263.40" stroke="#888" stroke-width="0.5" />
<text x="435.40" y="269.60" font-size="3.6" text-anchor="middle" font-weight="bold" fill="#111" stroke="#111" stroke-width="0.12">18</text>
<line x1="444.40" y1="262.20" x2="444.40" y2="263.40" stroke="#888" stroke-width="0.5" />
<text x="444.40" y="269.60" font-size="3.6" text-anchor="middle" font-weight="bold" fill="#111" stroke="#111" stroke-width="0.12">20</text>
<line x1="454.10" y1="262.20" x2="454.10" y2="263.40" stroke="#888" stroke-width="0.5" />
<text x="454.10" y="269.60" font-size="3.6" text-anchor="middle" font-weight="bold" fill="#111" stroke="#111" stroke-width="0.12">22</text>
<line x1="463.00" y1="262.20" x2="463.00" y2="263.40" stroke="#888" stroke-width="0.5" />
<text x="463.00" y="269.60" font-size="3.6" text-anchor="middle" font-weight="bold" fill="#111" stroke="#111" stroke-width="0.12">25</text>
<line x1="472.30" y1="262.20" x2="472.30" y2="263.40" stroke="#888" stroke-width="0.5" />
<text x="472.30" y="269.60" font-size="3.6" text-anchor="middle" font-weight="bold" fill="#111" stroke="#111" stroke-width="0.12">28</text>
<line x1="482.30" y1="262.20" x2="482.30" y2="263.40" stroke="#888" stroke-width="0.5" />
<text x="482.30" y="269.60" font-size="3.6" text-anchor="middle" font-weight="bold" fill="#111" stroke="#111" stroke-width="0.12">30</text>
<line x1="491.90" y1="262.20" x2="491.90" y2="263.40" stroke="#888" stroke-width="0.5" />
<text x="491.90" y="269.60" font-size="3.6" text-anchor="middle" font-weight="bold" fill="#111" stroke="#111" stroke-width="0.12">32</text>
<text x="454.00" y="276.20" font-size="3.8" text-anchor="middle" font-weight="bold" fill="#111" textLength="51.50" lengthAdjust="spacingAndGlyphs" stroke="#111" stroke-width="0.15">Days after tumor implantation</text>
<text x="404.60" y="237.00" font-size="3.2" text-anchor="middle" font-weight="bold" fill="#111" textLength="36.00" lengthAdjust="spacingAndGlyphs" transform="rotate(-90 404.60 237.00)" stroke="#111" stroke-width="0.12">Mean tumor size (cm3)</text>
<line x1="416.60" y1="260.13" x2="416.60" y2="261.03" stroke="#8a8a8a" stroke-width="0.7" />
<line x1="415.80" y1="260.13" x2="417.40" y2="260.13" stroke="#8a8a8a" stroke-width="0.6" />
<line x1="415.80" y1="261.03" x2="417.40" y2="261.03" stroke="#8a8a8a" stroke-width="0.6" />
<line x1="426.30" y1="259.31" x2="426.30" y2="260.22" stroke="#8a8a8a" stroke-width="0.7" />
<line x1="425.50" y1="259.31" x2="427.10" y2="259.31" stroke="#8a8a8a" stroke-width="0.6" />
<line x1="425.50" y1="260.22" x2="427.10" y2="260.22" stroke="#8a8a8a" stroke-width="0.6" />
<line x1="435.40" y1="257.33" x2="435.40" y2="259.13" stroke="#8a8a8a" stroke-width="0.7" />
<line x1="434.60" y1="257.33" x2="436.20" y2="257.33" stroke="#8a8a8a" stroke-width="0.6" />
<line x1="434.60" y1="259.13" x2="436.20" y2="259.13" stroke="#8a8a8a" stroke-width="0.6" />
<line x1="444.40" y1="253.54" x2="444.40" y2="258.95" stroke="#8a8a8a" stroke-width="0.7" />
<line x1="443.60" y1="253.54" x2="445.20" y2="253.54" stroke="#8a8a8a" stroke-width="0.6" />
<line x1="443.60" y1="258.95" x2="445.20" y2="258.95" stroke="#8a8a8a" stroke-width="0.6" />
<line x1="454.10" y1="252.01" x2="454.10" y2="257.42" stroke="#8a8a8a" stroke-width="0.7" />
<line x1="453.30" y1="252.01" x2="454.90" y2="252.01" stroke="#8a8a8a" stroke-width="0.6" />
<line x1="453.30" y1="257.42" x2="454.90" y2="257.42" stroke="#8a8a8a" stroke-width="0.6" />
<line x1="463.00" y1="247.59" x2="463.00" y2="256.61" stroke="#8a8a8a" stroke-width="0.7" />
<line x1="462.20" y1="247.59" x2="463.80" y2="247.59" stroke="#8a8a8a" stroke-width="0.6" />
<line x1="462.20" y1="256.61" x2="463.80" y2="256.61" stroke="#8a8a8a" stroke-width="0.6" />
<line x1="472.30" y1="240.38" x2="472.30" y2="250.30" stroke="#8a8a8a" stroke-width="0.7" />
<line x1="471.50" y1="240.38" x2="473.10" y2="240.38" stroke="#8a8a8a" stroke-width="0.6" />
<line x1="471.50" y1="250.30" x2="473.10" y2="250.30" stroke="#8a8a8a" stroke-width="0.6" />
<line x1="482.30" y1="229.92" x2="482.30" y2="247.95" stroke="#8a8a8a" stroke-width="0.7" />
<line x1="481.50" y1="229.92" x2="483.10" y2="229.92" stroke="#8a8a8a" stroke-width="0.6" />
<line x1="481.50" y1="247.95" x2="483.10" y2="247.95" stroke="#8a8a8a" stroke-width="0.6" />
<line x1="491.90" y1="215.49" x2="491.90" y2="244.35" stroke="#8a8a8a" stroke-width="0.7" />
<line x1="491.10" y1="215.49" x2="492.70" y2="215.49" stroke="#8a8a8a" stroke-width="0.6" />
<line x1="491.10" y1="244.35" x2="492.70" y2="244.35" stroke="#8a8a8a" stroke-width="0.6" />
<line x1="416.60" y1="259.68" x2="416.60" y2="261.84" stroke="#d9a0d9" stroke-width="0.5" />
<line x1="426.30" y1="259.13" x2="426.30" y2="261.30" stroke="#d9a0d9" stroke-width="0.5" />
<line x1="435.40" y1="257.15" x2="435.40" y2="259.31" stroke="#d9a0d9" stroke-width="0.5" />
<line x1="444.40" y1="257.06" x2="444.40" y2="259.22" stroke="#d9a0d9" stroke-width="0.5" />
<line x1="454.10" y1="257.15" x2="454.10" y2="259.31" stroke="#d9a0d9" stroke-width="0.5" />
<line x1="463.00" y1="255.53" x2="463.00" y2="257.69" stroke="#d9a0d9" stroke-width="0.5" />
<line x1="472.30" y1="253.63" x2="472.30" y2="255.80" stroke="#d9a0d9" stroke-width="0.5" />
<line x1="482.30" y1="253.00" x2="482.30" y2="255.17" stroke="#d9a0d9" stroke-width="0.5" />
<line x1="491.90" y1="252.64" x2="491.90" y2="254.81" stroke="#d9a0d9" stroke-width="0.5" />
<polyline points="416.60,260.76 426.30,260.22 435.40,258.23 444.40,258.14 454.10,258.23 463.00,256.61 472.30,254.72 482.30,254.08 491.90,253.72" fill="none" stroke="#e36ae3" stroke-width="0.8"/>
<rect x="415.70" y="259.86" width="1.80" height="1.80" fill="#c040c0" stroke="none" stroke-width="1" />
<rect x="425.40" y="259.32" width="1.80" height="1.80" fill="#c040c0" stroke="none" stroke-width="1" />
<rect x="434.50" y="257.33" width="1.80" height="1.80" fill="#c040c0" stroke="none" stroke-width="1" />
<rect x="443.50" y="257.24" width="1.80" height="1.80" fill="#c040c0" stroke="none" stroke-width="1" />
<rect x="453.20" y="257.33" width="1.80" height="1.80" fill="#c040c0" stroke="none" stroke-width="1" />
<rect x="462.10" y="255.71" width="1.80" height="1.80" fill="#c040c0" stroke="none" stroke-width="1" />
<rect x="471.40" y="253.82" width="1.80" height="1.80" fill="#c040c0" stroke="none" stroke-width="1" />
<rect x="481.40" y="253.18" width="1.80" height="1.80" fill="#c040c0" stroke="none" stroke-width="1" />
<rect x="491.00" y="252.82" width="1.80" height="1.80" fill="#c040c0" stroke="none" stroke-width="1" />
<polyline points="416.60,260.58 426.30,259.77 435.40,258.23 444.40,256.25 454.10,254.72 463.00,252.10 472.30,245.34 482.30,238.94 491.90,229.92" fill="none" stroke="#40408a" stroke-width="0.6"/>
<rect x="415.70" y="259.68" width="1.80" height="1.80" fill="#1a1a60" stroke="none" stroke-width="1" />
<rect x="425.40" y="258.87" width="1.80" height="1.80" fill="#1a1a60" stroke="none" stroke-width="1" />
<rect x="434.50" y="257.33" width="1.80" height="1.80" fill="#1a1a60" stroke="none" stroke-width="1" />
<rect x="443.50" y="255.35" width="1.80" height="1.80" fill="#1a1a60" stroke="none" stroke-width="1" />
<rect x="453.20" y="253.82" width="1.80" height="1.80" fill="#1a1a60" stroke="none" stroke-width="1" />
<rect x="462.10" y="251.20" width="1.80" height="1.80" fill="#1a1a60" stroke="none" stroke-width="1" />
<rect x="471.40" y="244.44" width="1.80" height="1.80" fill="#1a1a60" stroke="none" stroke-width="1" />
<rect x="481.40" y="238.04" width="1.80" height="1.80" fill="#1a1a60" stroke="none" stroke-width="1" />
<rect x="491.00" y="229.02" width="1.80" height="1.80" fill="#1a1a60" stroke="none" stroke-width="1" />
<rect x="472.30" y="234.30" width="1.80" height="1.80" fill="#333" stroke="none" stroke-width="1" />
<rect x="481.40" y="224.30" width="1.80" height="1.80" fill="#333" stroke="none" stroke-width="1" />
<rect x="490.90" y="209.10" width="1.80" height="1.80" fill="#333" stroke="none" stroke-width="1" />
<line x1="414.30" y1="209.10" x2="420.80" y2="209.10" stroke="#8080b0" stroke-width="0.45" />
<rect x="416.40" y="208.20" width="1.80" height="1.80" fill="#1a1a60" stroke="none" stroke-width="1" />
<text x="422.00" y="210.20" font-size="2.8" text-anchor="start" font-weight="normal" fill="#000" textLength="10.00" lengthAdjust="spacingAndGlyphs" >Control</text>
<line x1="414.30" y1="214.70" x2="420.80" y2="214.70" stroke="#e8a0e8" stroke-width="0.45" />
<rect x="416.40" y="213.80" width="1.80" height="1.80" fill="#c040c0" stroke="none" stroke-width="1" />
<text x="422.00" y="215.80" font-size="2.8" text-anchor="start" font-weight="normal" fill="#000" textLength="13.00" lengthAdjust="spacingAndGlyphs" >AZD6244</text>
</svg>
</body></html>
